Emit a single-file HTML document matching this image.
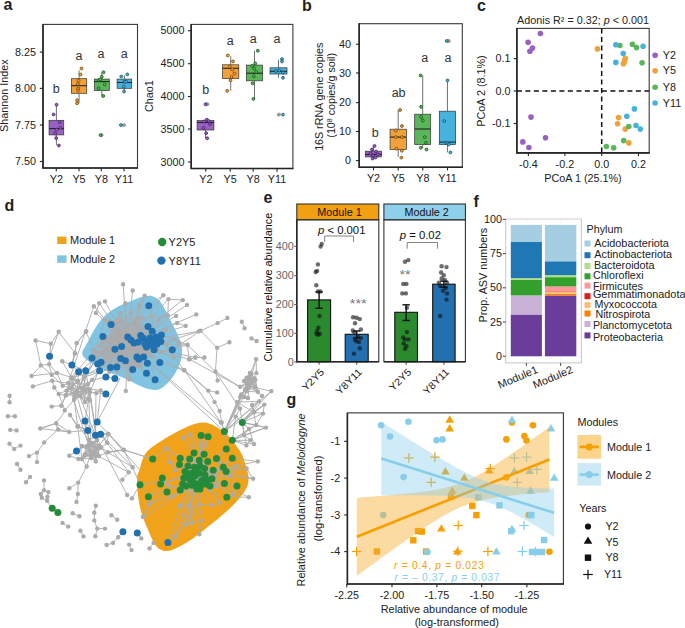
<!DOCTYPE html>
<html><head><meta charset="utf-8"><style>
html,body{margin:0;padding:0;background:#fff;}
svg{display:block;}
text{font-family:"Liberation Sans", sans-serif;}
</style></head><body>
<svg width="685" height="628" viewBox="0 0 685 628">
<rect width="685" height="628" fill="#fff"/>
<text transform="translate(3.50,9.70)" font-size="16" text-anchor="start" fill="#231f20" font-weight="bold" >a</text>
<text transform="translate(302.00,11.20)" font-size="16" text-anchor="start" fill="#231f20" font-weight="bold" >b</text>
<text transform="translate(477.00,10.70)" font-size="16" text-anchor="start" fill="#231f20" font-weight="bold" >c</text>
<text transform="translate(4.50,210.70)" font-size="16" text-anchor="start" fill="#231f20" font-weight="bold" >d</text>
<text transform="translate(263.50,203.20)" font-size="16" text-anchor="start" fill="#231f20" font-weight="bold" >e</text>
<text transform="translate(473.50,206.70)" font-size="16" text-anchor="start" fill="#231f20" font-weight="bold" >f</text>
<text transform="translate(286.50,404.70)" font-size="16" text-anchor="start" fill="#231f20" font-weight="bold" >g</text>
<rect x="43.00" y="24.40" width="94.50" height="143.60" fill="none" stroke="#3a3a3a" stroke-width="1.1" />
<line x1="43.00" y1="23.90" x2="43.00" y2="168.60" stroke="#262626" stroke-width="1.6" />
<line x1="42.40" y1="168.00" x2="138.00" y2="168.00" stroke="#262626" stroke-width="1.6" />
<line x1="39.80" y1="52.10" x2="43.00" y2="52.10" stroke="#262626" stroke-width="1.1" />
<text transform="translate(36.00,55.70) scale(1.08,1)" font-size="10" text-anchor="end" fill="#222" font-weight="normal" >8.25</text>
<line x1="39.80" y1="88.40" x2="43.00" y2="88.40" stroke="#262626" stroke-width="1.1" />
<text transform="translate(36.00,92.00) scale(1.08,1)" font-size="10" text-anchor="end" fill="#222" font-weight="normal" >8.00</text>
<line x1="39.80" y1="125.00" x2="43.00" y2="125.00" stroke="#262626" stroke-width="1.1" />
<text transform="translate(36.00,128.60) scale(1.08,1)" font-size="10" text-anchor="end" fill="#222" font-weight="normal" >7.75</text>
<line x1="39.80" y1="161.50" x2="43.00" y2="161.50" stroke="#262626" stroke-width="1.1" />
<text transform="translate(36.00,165.10) scale(1.08,1)" font-size="10" text-anchor="end" fill="#222" font-weight="normal" >7.50</text>
<line x1="56.30" y1="168.00" x2="56.30" y2="171.20" stroke="#262626" stroke-width="1.1" />
<text transform="translate(56.30,182.60) scale(1.08,1)" font-size="10" text-anchor="middle" fill="#222" font-weight="normal" >Y2</text>
<line x1="79.00" y1="168.00" x2="79.00" y2="171.20" stroke="#262626" stroke-width="1.1" />
<text transform="translate(79.00,182.60) scale(1.08,1)" font-size="10" text-anchor="middle" fill="#222" font-weight="normal" >Y5</text>
<line x1="101.30" y1="168.00" x2="101.30" y2="171.20" stroke="#262626" stroke-width="1.1" />
<text transform="translate(101.30,182.60) scale(1.08,1)" font-size="10" text-anchor="middle" fill="#222" font-weight="normal" >Y8</text>
<line x1="124.00" y1="168.00" x2="124.00" y2="171.20" stroke="#262626" stroke-width="1.1" />
<text transform="translate(124.00,182.60) scale(1.08,1)" font-size="10" text-anchor="middle" fill="#222" font-weight="normal" >Y11</text>
<text transform="translate(7.90,95.70) rotate(-90) scale(1.08,1)" font-size="10" text-anchor="middle" fill="#222" font-weight="normal" >Shannon Index</text>
<line x1="56.40" y1="104.40" x2="56.40" y2="120.30" stroke="#333" stroke-width="0.7" />
<line x1="56.40" y1="134.90" x2="56.40" y2="145.20" stroke="#333" stroke-width="0.7" />
<rect x="49.05" y="120.30" width="14.70" height="14.60" fill="#9960C4" stroke="#333" stroke-width="0.7" />
<line x1="49.05" y1="128.60" x2="63.75" y2="128.60" stroke="#222" stroke-width="1.1" />
<circle cx="56.60" cy="104.70" r="1.45" fill="#9960C4" stroke="#3E1F5C" stroke-width="0.75" />
<circle cx="53.60" cy="114.50" r="1.45" fill="#9960C4" stroke="#3E1F5C" stroke-width="0.75" />
<circle cx="59.70" cy="122.10" r="1.45" fill="#9960C4" stroke="#3E1F5C" stroke-width="0.75" />
<circle cx="56.60" cy="129.60" r="1.45" fill="#9960C4" stroke="#3E1F5C" stroke-width="0.75" />
<circle cx="60.40" cy="127.80" r="1.45" fill="#9960C4" stroke="#3E1F5C" stroke-width="0.75" />
<circle cx="55.10" cy="133.40" r="1.45" fill="#9960C4" stroke="#3E1F5C" stroke-width="0.75" />
<circle cx="56.20" cy="138.10" r="1.45" fill="#9960C4" stroke="#3E1F5C" stroke-width="0.75" />
<circle cx="58.90" cy="145.50" r="1.45" fill="#9960C4" stroke="#3E1F5C" stroke-width="0.75" />
<line x1="79.05" y1="70.40" x2="79.05" y2="78.70" stroke="#333" stroke-width="0.7" />
<line x1="79.05" y1="93.30" x2="79.05" y2="103.30" stroke="#333" stroke-width="0.7" />
<rect x="71.40" y="78.70" width="15.30" height="14.60" fill="#F2A13A" stroke="#333" stroke-width="0.7" />
<line x1="71.40" y1="85.70" x2="86.70" y2="85.70" stroke="#222" stroke-width="1.1" />
<circle cx="81.50" cy="68.50" r="1.45" fill="#F2A13A" stroke="#6A4008" stroke-width="0.75" />
<circle cx="80.60" cy="74.50" r="1.45" fill="#F2A13A" stroke="#6A4008" stroke-width="0.75" />
<circle cx="78.60" cy="80.60" r="1.45" fill="#F2A13A" stroke="#6A4008" stroke-width="0.75" />
<circle cx="77.90" cy="84.00" r="1.45" fill="#F2A13A" stroke="#6A4008" stroke-width="0.75" />
<circle cx="78.20" cy="88.50" r="1.45" fill="#F2A13A" stroke="#6A4008" stroke-width="0.75" />
<circle cx="78.00" cy="90.50" r="1.45" fill="#F2A13A" stroke="#6A4008" stroke-width="0.75" />
<circle cx="77.10" cy="100.30" r="1.45" fill="#F2A13A" stroke="#6A4008" stroke-width="0.75" />
<circle cx="77.10" cy="103.30" r="1.45" fill="#F2A13A" stroke="#6A4008" stroke-width="0.75" />
<line x1="101.80" y1="72.30" x2="101.80" y2="79.10" stroke="#333" stroke-width="0.7" />
<line x1="101.80" y1="90.50" x2="101.80" y2="95.90" stroke="#333" stroke-width="0.7" />
<rect x="94.30" y="79.10" width="15.00" height="11.40" fill="#5BB55B" stroke="#333" stroke-width="0.7" />
<line x1="94.30" y1="81.60" x2="109.30" y2="81.60" stroke="#222" stroke-width="1.1" />
<circle cx="101.60" cy="135.10" r="1.7" fill="#9a9a9a" stroke="#777" stroke-width="0.4" />
<circle cx="103.50" cy="72.30" r="1.45" fill="#5BB55B" stroke="#154F1A" stroke-width="0.75" />
<circle cx="101.80" cy="76.80" r="1.45" fill="#5BB55B" stroke="#154F1A" stroke-width="0.75" />
<circle cx="98.80" cy="80.30" r="1.45" fill="#5BB55B" stroke="#154F1A" stroke-width="0.75" />
<circle cx="100.20" cy="79.50" r="1.45" fill="#5BB55B" stroke="#154F1A" stroke-width="0.75" />
<circle cx="104.60" cy="84.40" r="1.45" fill="#5BB55B" stroke="#154F1A" stroke-width="0.75" />
<circle cx="98.60" cy="88.30" r="1.45" fill="#5BB55B" stroke="#154F1A" stroke-width="0.75" />
<circle cx="103.20" cy="96.00" r="1.45" fill="#5BB55B" stroke="#154F1A" stroke-width="0.75" />
<circle cx="100.50" cy="135.10" r="1.45" fill="#5BB55B" stroke="#154F1A" stroke-width="0.75" />
<line x1="124.40" y1="75.50" x2="124.40" y2="79.10" stroke="#333" stroke-width="0.7" />
<line x1="124.40" y1="88.30" x2="124.40" y2="91.50" stroke="#333" stroke-width="0.7" />
<rect x="117.10" y="79.10" width="14.60" height="9.20" fill="#45B3DE" stroke="#333" stroke-width="0.7" />
<line x1="117.10" y1="82.50" x2="131.70" y2="82.50" stroke="#222" stroke-width="1.1" />
<circle cx="124.00" cy="125.10" r="1.7" fill="#9a9a9a" stroke="#777" stroke-width="0.4" />
<circle cx="121.30" cy="76.50" r="1.45" fill="#45B3DE" stroke="#134C66" stroke-width="0.75" />
<circle cx="127.30" cy="74.40" r="1.45" fill="#45B3DE" stroke="#134C66" stroke-width="0.75" />
<circle cx="124.40" cy="81.80" r="1.45" fill="#45B3DE" stroke="#134C66" stroke-width="0.75" />
<circle cx="126.10" cy="81.80" r="1.45" fill="#45B3DE" stroke="#134C66" stroke-width="0.75" />
<circle cx="123.80" cy="86.60" r="1.45" fill="#45B3DE" stroke="#134C66" stroke-width="0.75" />
<circle cx="124.00" cy="91.50" r="1.45" fill="#45B3DE" stroke="#134C66" stroke-width="0.75" />
<circle cx="120.90" cy="125.10" r="1.45" fill="#45B3DE" stroke="#134C66" stroke-width="0.75" />
<text transform="translate(56.30,92.60)" font-size="12.5" text-anchor="middle" fill="#333" font-weight="normal" >b</text>
<text transform="translate(79.00,59.70)" font-size="12.5" text-anchor="middle" fill="#333" font-weight="normal" >a</text>
<text transform="translate(101.00,57.70)" font-size="12.5" text-anchor="middle" fill="#333" font-weight="normal" >a</text>
<text transform="translate(124.20,57.70)" font-size="12.5" text-anchor="middle" fill="#333" font-weight="normal" >a</text>
<rect x="191.20" y="24.40" width="101.70" height="144.10" fill="none" stroke="#3a3a3a" stroke-width="1.1" />
<line x1="191.20" y1="23.90" x2="191.20" y2="169.10" stroke="#262626" stroke-width="1.6" />
<line x1="190.60" y1="168.50" x2="293.40" y2="168.50" stroke="#262626" stroke-width="1.6" />
<line x1="188.00" y1="30.70" x2="191.20" y2="30.70" stroke="#262626" stroke-width="1.1" />
<text transform="translate(184.50,34.30) scale(1.08,1)" font-size="10" text-anchor="end" fill="#222" font-weight="normal" >5000</text>
<line x1="188.00" y1="63.70" x2="191.20" y2="63.70" stroke="#262626" stroke-width="1.1" />
<text transform="translate(184.50,67.30) scale(1.08,1)" font-size="10" text-anchor="end" fill="#222" font-weight="normal" >4500</text>
<line x1="188.00" y1="96.50" x2="191.20" y2="96.50" stroke="#262626" stroke-width="1.1" />
<text transform="translate(184.50,100.10) scale(1.08,1)" font-size="10" text-anchor="end" fill="#222" font-weight="normal" >4000</text>
<line x1="188.00" y1="129.00" x2="191.20" y2="129.00" stroke="#262626" stroke-width="1.1" />
<text transform="translate(184.50,132.60) scale(1.08,1)" font-size="10" text-anchor="end" fill="#222" font-weight="normal" >3500</text>
<line x1="188.00" y1="162.00" x2="191.20" y2="162.00" stroke="#262626" stroke-width="1.1" />
<text transform="translate(184.50,165.60) scale(1.08,1)" font-size="10" text-anchor="end" fill="#222" font-weight="normal" >3000</text>
<line x1="205.80" y1="168.50" x2="205.80" y2="171.70" stroke="#262626" stroke-width="1.1" />
<text transform="translate(205.80,182.90) scale(1.08,1)" font-size="10" text-anchor="middle" fill="#222" font-weight="normal" >Y2</text>
<line x1="230.20" y1="168.50" x2="230.20" y2="171.70" stroke="#262626" stroke-width="1.1" />
<text transform="translate(230.20,182.90) scale(1.08,1)" font-size="10" text-anchor="middle" fill="#222" font-weight="normal" >Y5</text>
<line x1="253.20" y1="168.50" x2="253.20" y2="171.70" stroke="#262626" stroke-width="1.1" />
<text transform="translate(253.20,182.90) scale(1.08,1)" font-size="10" text-anchor="middle" fill="#222" font-weight="normal" >Y8</text>
<line x1="277.00" y1="168.50" x2="277.00" y2="171.70" stroke="#262626" stroke-width="1.1" />
<text transform="translate(277.00,182.90) scale(1.08,1)" font-size="10" text-anchor="middle" fill="#222" font-weight="normal" >Y11</text>
<text transform="translate(153.40,96.20) rotate(-90) scale(1.08,1)" font-size="10" text-anchor="middle" fill="#222" font-weight="normal" >Chao1</text>
<line x1="205.50" y1="120.60" x2="205.50" y2="120.60" stroke="#333" stroke-width="0.7" />
<line x1="205.50" y1="130.00" x2="205.50" y2="138.20" stroke="#333" stroke-width="0.7" />
<rect x="197.10" y="120.60" width="16.80" height="9.40" fill="#9960C4" stroke="#333" stroke-width="0.7" />
<line x1="197.10" y1="122.50" x2="213.90" y2="122.50" stroke="#222" stroke-width="1.1" />
<circle cx="207.30" cy="104.30" r="1.7" fill="#9a9a9a" stroke="#777" stroke-width="0.4" />
<circle cx="205.50" cy="104.30" r="1.45" fill="#9960C4" stroke="#3E1F5C" stroke-width="0.75" />
<circle cx="206.80" cy="119.70" r="1.45" fill="#9960C4" stroke="#3E1F5C" stroke-width="0.75" />
<circle cx="208.60" cy="121.00" r="1.45" fill="#9960C4" stroke="#3E1F5C" stroke-width="0.75" />
<circle cx="204.00" cy="121.50" r="1.45" fill="#9960C4" stroke="#3E1F5C" stroke-width="0.75" />
<circle cx="210.00" cy="124.00" r="1.45" fill="#9960C4" stroke="#3E1F5C" stroke-width="0.75" />
<circle cx="203.50" cy="128.00" r="1.45" fill="#9960C4" stroke="#3E1F5C" stroke-width="0.75" />
<circle cx="206.20" cy="133.20" r="1.45" fill="#9960C4" stroke="#3E1F5C" stroke-width="0.75" />
<circle cx="207.20" cy="138.30" r="1.45" fill="#9960C4" stroke="#3E1F5C" stroke-width="0.75" />
<line x1="230.70" y1="56.10" x2="230.70" y2="64.80" stroke="#333" stroke-width="0.7" />
<line x1="230.70" y1="78.60" x2="230.70" y2="90.80" stroke="#333" stroke-width="0.7" />
<rect x="222.60" y="64.80" width="16.20" height="13.80" fill="#F2A13A" stroke="#333" stroke-width="0.7" />
<line x1="222.60" y1="68.30" x2="238.80" y2="68.30" stroke="#222" stroke-width="1.1" />
<circle cx="227.80" cy="55.50" r="1.45" fill="#F2A13A" stroke="#6A4008" stroke-width="0.75" />
<circle cx="233.00" cy="61.40" r="1.45" fill="#F2A13A" stroke="#6A4008" stroke-width="0.75" />
<circle cx="229.80" cy="66.50" r="1.45" fill="#F2A13A" stroke="#6A4008" stroke-width="0.75" />
<circle cx="232.30" cy="69.40" r="1.45" fill="#F2A13A" stroke="#6A4008" stroke-width="0.75" />
<circle cx="234.50" cy="73.50" r="1.45" fill="#F2A13A" stroke="#6A4008" stroke-width="0.75" />
<circle cx="231.60" cy="77.00" r="1.45" fill="#F2A13A" stroke="#6A4008" stroke-width="0.75" />
<circle cx="230.50" cy="80.30" r="1.45" fill="#F2A13A" stroke="#6A4008" stroke-width="0.75" />
<circle cx="227.20" cy="90.80" r="1.45" fill="#F2A13A" stroke="#6A4008" stroke-width="0.75" />
<line x1="254.50" y1="50.70" x2="254.50" y2="65.10" stroke="#333" stroke-width="0.7" />
<line x1="254.50" y1="80.80" x2="254.50" y2="98.90" stroke="#333" stroke-width="0.7" />
<rect x="246.40" y="65.10" width="16.20" height="15.70" fill="#5BB55B" stroke="#333" stroke-width="0.7" />
<line x1="246.40" y1="73.20" x2="262.60" y2="73.20" stroke="#222" stroke-width="1.1" />
<circle cx="257.80" cy="50.70" r="1.45" fill="#5BB55B" stroke="#154F1A" stroke-width="0.75" />
<circle cx="255.30" cy="63.50" r="1.45" fill="#5BB55B" stroke="#154F1A" stroke-width="0.75" />
<circle cx="252.30" cy="65.80" r="1.45" fill="#5BB55B" stroke="#154F1A" stroke-width="0.75" />
<circle cx="254.10" cy="68.40" r="1.45" fill="#5BB55B" stroke="#154F1A" stroke-width="0.75" />
<circle cx="256.20" cy="72.00" r="1.45" fill="#5BB55B" stroke="#154F1A" stroke-width="0.75" />
<circle cx="253.80" cy="76.30" r="1.45" fill="#5BB55B" stroke="#154F1A" stroke-width="0.75" />
<circle cx="252.60" cy="83.30" r="1.45" fill="#5BB55B" stroke="#154F1A" stroke-width="0.75" />
<circle cx="253.40" cy="98.90" r="1.45" fill="#5BB55B" stroke="#154F1A" stroke-width="0.75" />
<line x1="278.50" y1="59.70" x2="278.50" y2="67.80" stroke="#333" stroke-width="0.7" />
<line x1="278.50" y1="74.00" x2="278.50" y2="77.80" stroke="#333" stroke-width="0.7" />
<rect x="270.00" y="67.80" width="17.00" height="6.20" fill="#45B3DE" stroke="#333" stroke-width="0.7" />
<line x1="270.00" y1="71.30" x2="287.00" y2="71.30" stroke="#222" stroke-width="1.1" />
<circle cx="278.90" cy="114.60" r="1.7" fill="#9a9a9a" stroke="#777" stroke-width="0.4" />
<circle cx="282.00" cy="59.10" r="1.45" fill="#45B3DE" stroke="#134C66" stroke-width="0.75" />
<circle cx="282.00" cy="61.50" r="1.45" fill="#45B3DE" stroke="#134C66" stroke-width="0.75" />
<circle cx="275.90" cy="71.00" r="1.45" fill="#45B3DE" stroke="#134C66" stroke-width="0.75" />
<circle cx="279.20" cy="70.50" r="1.45" fill="#45B3DE" stroke="#134C66" stroke-width="0.75" />
<circle cx="283.00" cy="72.60" r="1.45" fill="#45B3DE" stroke="#134C66" stroke-width="0.75" />
<circle cx="283.00" cy="77.80" r="1.45" fill="#45B3DE" stroke="#134C66" stroke-width="0.75" />
<circle cx="283.00" cy="114.60" r="1.45" fill="#45B3DE" stroke="#134C66" stroke-width="0.75" />
<text transform="translate(205.80,94.00)" font-size="12.5" text-anchor="middle" fill="#333" font-weight="normal" >b</text>
<text transform="translate(230.20,44.80)" font-size="12.5" text-anchor="middle" fill="#333" font-weight="normal" >a</text>
<text transform="translate(253.20,42.60)" font-size="12.5" text-anchor="middle" fill="#333" font-weight="normal" >a</text>
<text transform="translate(277.00,42.60)" font-size="12.5" text-anchor="middle" fill="#333" font-weight="normal" >a</text>
<rect x="359.20" y="23.70" width="103.10" height="143.50" fill="none" stroke="#3a3a3a" stroke-width="1.1" />
<line x1="359.20" y1="23.20" x2="359.20" y2="167.80" stroke="#262626" stroke-width="1.6" />
<line x1="358.60" y1="167.20" x2="462.80" y2="167.20" stroke="#262626" stroke-width="1.6" />
<line x1="356.00" y1="44.20" x2="359.20" y2="44.20" stroke="#262626" stroke-width="1.1" />
<text transform="translate(351.00,47.80) scale(1.08,1)" font-size="10" text-anchor="end" fill="#222" font-weight="normal" >40</text>
<line x1="356.00" y1="73.00" x2="359.20" y2="73.00" stroke="#262626" stroke-width="1.1" />
<text transform="translate(351.00,76.60) scale(1.08,1)" font-size="10" text-anchor="end" fill="#222" font-weight="normal" >30</text>
<line x1="356.00" y1="102.60" x2="359.20" y2="102.60" stroke="#262626" stroke-width="1.1" />
<text transform="translate(351.00,106.20) scale(1.08,1)" font-size="10" text-anchor="end" fill="#222" font-weight="normal" >20</text>
<line x1="356.00" y1="131.50" x2="359.20" y2="131.50" stroke="#262626" stroke-width="1.1" />
<text transform="translate(351.00,135.10) scale(1.08,1)" font-size="10" text-anchor="end" fill="#222" font-weight="normal" >10</text>
<line x1="356.00" y1="160.60" x2="359.20" y2="160.60" stroke="#262626" stroke-width="1.1" />
<text transform="translate(351.00,164.20) scale(1.08,1)" font-size="10" text-anchor="end" fill="#222" font-weight="normal" >0</text>
<line x1="373.50" y1="167.20" x2="373.50" y2="170.40" stroke="#262626" stroke-width="1.1" />
<text transform="translate(373.50,181.80) scale(1.08,1)" font-size="10" text-anchor="middle" fill="#222" font-weight="normal" >Y2</text>
<line x1="398.20" y1="167.20" x2="398.20" y2="170.40" stroke="#262626" stroke-width="1.1" />
<text transform="translate(398.20,181.80) scale(1.08,1)" font-size="10" text-anchor="middle" fill="#222" font-weight="normal" >Y5</text>
<line x1="422.80" y1="167.20" x2="422.80" y2="170.40" stroke="#262626" stroke-width="1.1" />
<text transform="translate(422.80,181.80) scale(1.08,1)" font-size="10" text-anchor="middle" fill="#222" font-weight="normal" >Y8</text>
<line x1="447.50" y1="167.20" x2="447.50" y2="170.40" stroke="#262626" stroke-width="1.1" />
<text transform="translate(447.50,181.80) scale(1.08,1)" font-size="10" text-anchor="middle" fill="#222" font-weight="normal" >Y11</text>
<text transform="translate(322.80,96.80) rotate(-90) scale(1.07,1)" font-size="10" text-anchor="middle" fill="#222" font-weight="normal" >16S rRNA gene copies</text>
<text transform="translate(335.00,95.30) rotate(-90) scale(1.07,1)" font-size="10" text-anchor="middle" fill="#222" font-weight="normal" >(10<tspan font-size="6.5" dy="-3.5">8</tspan><tspan dy="3.5"> copies/g soil)</tspan></text>
<line x1="373.50" y1="145.80" x2="373.50" y2="151.20" stroke="#333" stroke-width="0.7" />
<line x1="373.50" y1="156.90" x2="373.50" y2="159.30" stroke="#333" stroke-width="0.7" />
<rect x="365.40" y="151.20" width="16.20" height="5.70" fill="#9960C4" stroke="#333" stroke-width="0.7" />
<line x1="365.40" y1="154.40" x2="381.60" y2="154.40" stroke="#222" stroke-width="1.1" />
<circle cx="374.50" cy="146.00" r="1.45" fill="#9960C4" stroke="#3E1F5C" stroke-width="0.75" />
<circle cx="372.00" cy="149.50" r="1.45" fill="#9960C4" stroke="#3E1F5C" stroke-width="0.75" />
<circle cx="376.00" cy="151.50" r="1.45" fill="#9960C4" stroke="#3E1F5C" stroke-width="0.75" />
<circle cx="370.50" cy="153.50" r="1.45" fill="#9960C4" stroke="#3E1F5C" stroke-width="0.75" />
<circle cx="378.00" cy="154.60" r="1.45" fill="#9960C4" stroke="#3E1F5C" stroke-width="0.75" />
<circle cx="373.00" cy="155.50" r="1.45" fill="#9960C4" stroke="#3E1F5C" stroke-width="0.75" />
<circle cx="375.50" cy="157.50" r="1.45" fill="#9960C4" stroke="#3E1F5C" stroke-width="0.75" />
<circle cx="372.50" cy="158.50" r="1.45" fill="#9960C4" stroke="#3E1F5C" stroke-width="0.75" />
<line x1="398.20" y1="110.00" x2="398.20" y2="129.20" stroke="#333" stroke-width="0.7" />
<line x1="398.20" y1="149.50" x2="398.20" y2="156.90" stroke="#333" stroke-width="0.7" />
<rect x="390.05" y="129.20" width="16.30" height="20.30" fill="#F2A13A" stroke="#333" stroke-width="0.7" />
<line x1="390.05" y1="137.10" x2="406.35" y2="137.10" stroke="#222" stroke-width="1.1" />
<circle cx="400.10" cy="110.00" r="1.45" fill="#F2A13A" stroke="#6A4008" stroke-width="0.75" />
<circle cx="401.90" cy="126.00" r="1.45" fill="#F2A13A" stroke="#6A4008" stroke-width="0.75" />
<circle cx="395.70" cy="130.50" r="1.45" fill="#F2A13A" stroke="#6A4008" stroke-width="0.75" />
<circle cx="401.90" cy="137.10" r="1.45" fill="#F2A13A" stroke="#6A4008" stroke-width="0.75" />
<circle cx="395.70" cy="137.10" r="1.45" fill="#F2A13A" stroke="#6A4008" stroke-width="0.75" />
<circle cx="396.40" cy="148.70" r="1.45" fill="#F2A13A" stroke="#6A4008" stroke-width="0.75" />
<circle cx="401.90" cy="150.70" r="1.45" fill="#F2A13A" stroke="#6A4008" stroke-width="0.75" />
<circle cx="401.40" cy="157.60" r="1.45" fill="#F2A13A" stroke="#6A4008" stroke-width="0.75" />
<line x1="422.70" y1="75.50" x2="422.70" y2="114.20" stroke="#333" stroke-width="0.7" />
<line x1="422.70" y1="144.50" x2="422.70" y2="148.20" stroke="#333" stroke-width="0.7" />
<rect x="414.70" y="114.20" width="16.00" height="30.30" fill="#5BB55B" stroke="#333" stroke-width="0.7" />
<line x1="414.70" y1="129.00" x2="430.70" y2="129.00" stroke="#222" stroke-width="1.1" />
<circle cx="420.60" cy="75.50" r="1.45" fill="#5BB55B" stroke="#154F1A" stroke-width="0.75" />
<circle cx="421.10" cy="106.80" r="1.45" fill="#5BB55B" stroke="#154F1A" stroke-width="0.75" />
<circle cx="421.10" cy="116.90" r="1.45" fill="#5BB55B" stroke="#154F1A" stroke-width="0.75" />
<circle cx="422.80" cy="120.60" r="1.45" fill="#5BB55B" stroke="#154F1A" stroke-width="0.75" />
<circle cx="424.80" cy="137.10" r="1.45" fill="#5BB55B" stroke="#154F1A" stroke-width="0.75" />
<circle cx="425.80" cy="142.80" r="1.45" fill="#5BB55B" stroke="#154F1A" stroke-width="0.75" />
<circle cx="420.80" cy="147.70" r="1.45" fill="#5BB55B" stroke="#154F1A" stroke-width="0.75" />
<circle cx="426.50" cy="149.50" r="1.45" fill="#5BB55B" stroke="#154F1A" stroke-width="0.75" />
<line x1="447.45" y1="80.40" x2="447.45" y2="111.20" stroke="#333" stroke-width="0.7" />
<line x1="447.45" y1="144.50" x2="447.45" y2="152.40" stroke="#333" stroke-width="0.7" />
<rect x="439.30" y="111.20" width="16.30" height="33.30" fill="#45B3DE" stroke="#333" stroke-width="0.7" />
<line x1="439.30" y1="142.10" x2="455.60" y2="142.10" stroke="#222" stroke-width="1.1" />
<circle cx="448.70" cy="41.00" r="1.7" fill="#9a9a9a" stroke="#777" stroke-width="0.4" />
<circle cx="447.50" cy="80.40" r="1.45" fill="#45B3DE" stroke="#134C66" stroke-width="0.75" />
<circle cx="444.30" cy="121.10" r="1.45" fill="#45B3DE" stroke="#134C66" stroke-width="0.75" />
<circle cx="446.20" cy="142.60" r="1.45" fill="#45B3DE" stroke="#134C66" stroke-width="0.75" />
<circle cx="447.50" cy="143.30" r="1.45" fill="#45B3DE" stroke="#134C66" stroke-width="0.75" />
<circle cx="448.70" cy="144.50" r="1.45" fill="#45B3DE" stroke="#134C66" stroke-width="0.75" />
<circle cx="450.40" cy="152.40" r="1.45" fill="#45B3DE" stroke="#134C66" stroke-width="0.75" />
<circle cx="446.70" cy="41.00" r="1.45" fill="#45B3DE" stroke="#134C66" stroke-width="0.75" />
<text transform="translate(375.20,137.10)" font-size="12.5" text-anchor="middle" fill="#333" font-weight="normal" >b</text>
<text transform="translate(398.60,97.00)" font-size="12.5" text-anchor="middle" fill="#333" font-weight="normal" >ab</text>
<text transform="translate(424.80,62.40)" font-size="12.5" text-anchor="middle" fill="#333" font-weight="normal" >a</text>
<text transform="translate(448.00,62.40)" font-size="12.5" text-anchor="middle" fill="#333" font-weight="normal" >a</text>
<text transform="translate(583.00,24.00) scale(1.08,1)" font-size="10" text-anchor="middle" fill="#222" font-weight="normal" >Adonis R² = 0.32; <tspan font-style="italic">p</tspan> &lt; 0.001</text>
<rect x="516.90" y="28.40" width="132.30" height="124.50" fill="none" stroke="#3a3a3a" stroke-width="1.1" />
<line x1="516.90" y1="27.90" x2="516.90" y2="153.50" stroke="#262626" stroke-width="1.6" />
<line x1="516.30" y1="152.90" x2="649.70" y2="152.90" stroke="#262626" stroke-width="1.6" />
<line x1="516.90" y1="91.00" x2="649.20" y2="91.00" stroke="#111" stroke-width="1.5" stroke-dasharray="5,3.5"/>
<line x1="601.70" y1="28.40" x2="601.70" y2="152.90" stroke="#111" stroke-width="1.5" stroke-dasharray="5,3.5"/>
<line x1="513.70" y1="58.60" x2="516.90" y2="58.60" stroke="#262626" stroke-width="1.1" />
<text transform="translate(510.50,62.20) scale(1.08,1)" font-size="10" text-anchor="end" fill="#222" font-weight="normal" >0.1</text>
<line x1="513.70" y1="91.00" x2="516.90" y2="91.00" stroke="#262626" stroke-width="1.1" />
<text transform="translate(510.50,94.60) scale(1.08,1)" font-size="10" text-anchor="end" fill="#222" font-weight="normal" >0.0</text>
<line x1="513.70" y1="123.50" x2="516.90" y2="123.50" stroke="#262626" stroke-width="1.1" />
<text transform="translate(510.50,127.10) scale(1.08,1)" font-size="10" text-anchor="end" fill="#222" font-weight="normal" >-0.1</text>
<line x1="528.40" y1="152.90" x2="528.40" y2="156.10" stroke="#262626" stroke-width="1.1" />
<text transform="translate(528.40,168.00) scale(1.08,1)" font-size="10" text-anchor="middle" fill="#222" font-weight="normal" >-0.4</text>
<line x1="564.90" y1="152.90" x2="564.90" y2="156.10" stroke="#262626" stroke-width="1.1" />
<text transform="translate(564.90,168.00) scale(1.08,1)" font-size="10" text-anchor="middle" fill="#222" font-weight="normal" >-0.2</text>
<line x1="601.70" y1="152.90" x2="601.70" y2="156.10" stroke="#262626" stroke-width="1.1" />
<text transform="translate(601.70,168.00) scale(1.08,1)" font-size="10" text-anchor="middle" fill="#222" font-weight="normal" >0.0</text>
<line x1="638.50" y1="152.90" x2="638.50" y2="156.10" stroke="#262626" stroke-width="1.1" />
<text transform="translate(638.50,168.00) scale(1.08,1)" font-size="10" text-anchor="middle" fill="#222" font-weight="normal" >0.2</text>
<text transform="translate(583.00,182.40) scale(1.08,1)" font-size="10" text-anchor="middle" fill="#222" font-weight="normal" >PCoA 1 (25.1%)</text>
<text transform="translate(485.40,91.00) rotate(-90) scale(1.08,1)" font-size="10" text-anchor="middle" fill="#222" font-weight="normal" >PCoA 2 (8.1%)</text>
<circle cx="540.40" cy="33.50" r="2.8" fill="#9960C4" stroke="none" stroke-width="1" />
<circle cx="528.10" cy="42.20" r="2.8" fill="#9960C4" stroke="none" stroke-width="1" />
<circle cx="532.50" cy="48.10" r="2.8" fill="#9960C4" stroke="none" stroke-width="1" />
<circle cx="529.90" cy="51.20" r="2.8" fill="#9960C4" stroke="none" stroke-width="1" />
<circle cx="531.00" cy="117.10" r="2.8" fill="#9960C4" stroke="none" stroke-width="1" />
<circle cx="522.80" cy="141.90" r="2.8" fill="#9960C4" stroke="none" stroke-width="1" />
<circle cx="528.90" cy="147.50" r="2.8" fill="#9960C4" stroke="none" stroke-width="1" />
<circle cx="545.50" cy="137.80" r="2.8" fill="#9960C4" stroke="none" stroke-width="1" />
<circle cx="597.40" cy="48.90" r="2.8" fill="#F2A13A" stroke="none" stroke-width="1" />
<circle cx="625.20" cy="58.30" r="2.8" fill="#F2A13A" stroke="none" stroke-width="1" />
<circle cx="624.50" cy="61.40" r="2.8" fill="#F2A13A" stroke="none" stroke-width="1" />
<circle cx="623.40" cy="63.70" r="2.8" fill="#F2A13A" stroke="none" stroke-width="1" />
<circle cx="618.60" cy="117.60" r="2.8" fill="#F2A13A" stroke="none" stroke-width="1" />
<circle cx="617.60" cy="123.70" r="2.8" fill="#F2A13A" stroke="none" stroke-width="1" />
<circle cx="625.20" cy="129.10" r="2.8" fill="#F2A13A" stroke="none" stroke-width="1" />
<circle cx="628.80" cy="142.90" r="2.8" fill="#F2A13A" stroke="none" stroke-width="1" />
<circle cx="619.90" cy="45.50" r="2.8" fill="#5BB55B" stroke="none" stroke-width="1" />
<circle cx="632.40" cy="44.30" r="2.8" fill="#5BB55B" stroke="none" stroke-width="1" />
<circle cx="636.50" cy="47.60" r="2.8" fill="#5BB55B" stroke="none" stroke-width="1" />
<circle cx="642.10" cy="62.70" r="2.8" fill="#5BB55B" stroke="none" stroke-width="1" />
<circle cx="628.80" cy="126.50" r="2.8" fill="#5BB55B" stroke="none" stroke-width="1" />
<circle cx="623.70" cy="140.60" r="2.8" fill="#5BB55B" stroke="none" stroke-width="1" />
<circle cx="606.30" cy="146.50" r="2.8" fill="#5BB55B" stroke="none" stroke-width="1" />
<circle cx="613.70" cy="147.70" r="2.8" fill="#5BB55B" stroke="none" stroke-width="1" />
<circle cx="615.80" cy="44.80" r="2.8" fill="#45B3DE" stroke="none" stroke-width="1" />
<circle cx="623.20" cy="53.50" r="2.8" fill="#45B3DE" stroke="none" stroke-width="1" />
<circle cx="615.80" cy="62.40" r="2.8" fill="#45B3DE" stroke="none" stroke-width="1" />
<circle cx="643.10" cy="46.30" r="2.8" fill="#45B3DE" stroke="none" stroke-width="1" />
<circle cx="634.40" cy="108.90" r="2.8" fill="#45B3DE" stroke="none" stroke-width="1" />
<circle cx="626.80" cy="116.30" r="2.8" fill="#45B3DE" stroke="none" stroke-width="1" />
<circle cx="636.00" cy="125.50" r="2.8" fill="#45B3DE" stroke="none" stroke-width="1" />
<circle cx="640.30" cy="129.10" r="2.8" fill="#45B3DE" stroke="none" stroke-width="1" />
<circle cx="655.10" cy="55.30" r="2.8" fill="#9960C4" stroke="none" stroke-width="1" />
<text transform="translate(662.80,58.90) scale(1.08,1)" font-size="10" text-anchor="start" fill="#222" font-weight="normal" >Y2</text>
<circle cx="655.10" cy="70.80" r="2.8" fill="#F2A13A" stroke="none" stroke-width="1" />
<text transform="translate(662.80,74.40) scale(1.08,1)" font-size="10" text-anchor="start" fill="#222" font-weight="normal" >Y5</text>
<circle cx="655.10" cy="87.20" r="2.8" fill="#5BB55B" stroke="none" stroke-width="1" />
<text transform="translate(662.80,90.80) scale(1.08,1)" font-size="10" text-anchor="start" fill="#222" font-weight="normal" >Y8</text>
<circle cx="655.10" cy="103.00" r="2.8" fill="#45B3DE" stroke="none" stroke-width="1" />
<text transform="translate(662.80,106.60) scale(1.08,1)" font-size="10" text-anchor="start" fill="#222" font-weight="normal" >Y11</text>
<rect x="296.80" y="204.00" width="82.00" height="15.80" fill="#F0A010" stroke="#222" stroke-width="1" />
<rect x="383.90" y="204.00" width="81.50" height="15.80" fill="#8ED0EC" stroke="#222" stroke-width="1" />
<text transform="translate(339.50,215.60) scale(1.08,1)" font-size="10" text-anchor="middle" fill="#111" font-weight="normal" >Module 1</text>
<text transform="translate(426.60,215.60) scale(1.08,1)" font-size="10" text-anchor="middle" fill="#111" font-weight="normal" >Module 2</text>
<rect x="296.80" y="219.80" width="82.00" height="141.90" fill="none" stroke="#333" stroke-width="1.1" />
<rect x="383.90" y="219.80" width="81.50" height="141.90" fill="none" stroke="#333" stroke-width="1.1" />
<line x1="296.80" y1="219.80" x2="296.80" y2="362.30" stroke="#262626" stroke-width="1.5" />
<line x1="296.20" y1="361.70" x2="378.80" y2="361.70" stroke="#262626" stroke-width="1.5" />
<line x1="383.90" y1="361.70" x2="465.40" y2="361.70" stroke="#262626" stroke-width="1.5" />
<line x1="294.20" y1="246.30" x2="296.80" y2="246.30" stroke="#555" stroke-width="1" />
<text transform="translate(293.80,249.90) scale(1.08,1)" font-size="10" text-anchor="end" fill="#666" font-weight="normal" >400</text>
<line x1="294.20" y1="275.80" x2="296.80" y2="275.80" stroke="#555" stroke-width="1" />
<text transform="translate(293.80,279.40) scale(1.08,1)" font-size="10" text-anchor="end" fill="#666" font-weight="normal" >300</text>
<line x1="294.20" y1="304.60" x2="296.80" y2="304.60" stroke="#555" stroke-width="1" />
<text transform="translate(293.80,308.20) scale(1.08,1)" font-size="10" text-anchor="end" fill="#666" font-weight="normal" >200</text>
<line x1="294.20" y1="333.30" x2="296.80" y2="333.30" stroke="#555" stroke-width="1" />
<text transform="translate(293.80,336.90) scale(1.08,1)" font-size="10" text-anchor="end" fill="#666" font-weight="normal" >100</text>
<line x1="294.20" y1="362.00" x2="296.80" y2="362.00" stroke="#555" stroke-width="1" />
<text transform="translate(293.80,365.60) scale(1.08,1)" font-size="10" text-anchor="end" fill="#666" font-weight="normal" >0</text>
<text transform="translate(271.80,287.20) rotate(-90) scale(1.085,1)" font-size="10" text-anchor="middle" fill="#111" font-weight="normal" >Cumulative relative abundance</text>
<rect x="307.60" y="299.90" width="23.00" height="61.80" fill="#2B8A2E" stroke="#111" stroke-width="1.1" />
<rect x="345.20" y="334.30" width="23.00" height="27.40" fill="#2270B0" stroke="#111" stroke-width="1.1" />
<rect x="394.80" y="312.30" width="22.70" height="49.40" fill="#2B8A2E" stroke="#111" stroke-width="1.1" />
<rect x="432.70" y="284.20" width="22.40" height="77.50" fill="#2270B0" stroke="#111" stroke-width="1.1" />
<circle cx="321.70" cy="243.90" r="2.2" fill="#111" stroke="none" stroke-width="1" fill-opacity="0.62"/>
<circle cx="320.60" cy="246.60" r="2.2" fill="#111" stroke="none" stroke-width="1" fill-opacity="0.62"/>
<circle cx="317.90" cy="264.40" r="2.2" fill="#111" stroke="none" stroke-width="1" fill-opacity="0.62"/>
<circle cx="317.10" cy="270.90" r="2.2" fill="#111" stroke="none" stroke-width="1" fill-opacity="0.62"/>
<circle cx="315.70" cy="272.00" r="2.2" fill="#111" stroke="none" stroke-width="1" fill-opacity="0.62"/>
<circle cx="316.30" cy="285.30" r="2.2" fill="#111" stroke="none" stroke-width="1" fill-opacity="0.62"/>
<circle cx="317.90" cy="291.50" r="2.2" fill="#111" stroke="none" stroke-width="1" fill-opacity="0.62"/>
<circle cx="320.30" cy="291.50" r="2.2" fill="#111" stroke="none" stroke-width="1" fill-opacity="0.62"/>
<circle cx="319.50" cy="315.90" r="2.2" fill="#111" stroke="none" stroke-width="1" fill-opacity="0.62"/>
<circle cx="318.40" cy="327.80" r="2.2" fill="#111" stroke="none" stroke-width="1" fill-opacity="0.62"/>
<circle cx="317.10" cy="331.00" r="2.2" fill="#111" stroke="none" stroke-width="1" fill-opacity="0.62"/>
<circle cx="316.30" cy="333.70" r="2.2" fill="#111" stroke="none" stroke-width="1" fill-opacity="0.62"/>
<circle cx="319.80" cy="333.70" r="2.2" fill="#111" stroke="none" stroke-width="1" fill-opacity="0.62"/>
<circle cx="318.20" cy="334.80" r="2.2" fill="#111" stroke="none" stroke-width="1" fill-opacity="0.62"/>
<circle cx="353.10" cy="317.20" r="2.2" fill="#111" stroke="none" stroke-width="1" fill-opacity="0.62"/>
<circle cx="356.60" cy="317.80" r="2.2" fill="#111" stroke="none" stroke-width="1" fill-opacity="0.62"/>
<circle cx="359.80" cy="319.10" r="2.2" fill="#111" stroke="none" stroke-width="1" fill-opacity="0.62"/>
<circle cx="355.00" cy="323.20" r="2.2" fill="#111" stroke="none" stroke-width="1" fill-opacity="0.62"/>
<circle cx="352.80" cy="330.50" r="2.2" fill="#111" stroke="none" stroke-width="1" fill-opacity="0.62"/>
<circle cx="360.90" cy="329.40" r="2.2" fill="#111" stroke="none" stroke-width="1" fill-opacity="0.62"/>
<circle cx="354.40" cy="332.40" r="2.2" fill="#111" stroke="none" stroke-width="1" fill-opacity="0.62"/>
<circle cx="357.70" cy="336.70" r="2.2" fill="#111" stroke="none" stroke-width="1" fill-opacity="0.62"/>
<circle cx="355.00" cy="339.40" r="2.2" fill="#111" stroke="none" stroke-width="1" fill-opacity="0.62"/>
<circle cx="360.90" cy="338.10" r="2.2" fill="#111" stroke="none" stroke-width="1" fill-opacity="0.62"/>
<circle cx="356.30" cy="341.30" r="2.2" fill="#111" stroke="none" stroke-width="1" fill-opacity="0.62"/>
<circle cx="359.00" cy="342.10" r="2.2" fill="#111" stroke="none" stroke-width="1" fill-opacity="0.62"/>
<circle cx="359.80" cy="348.30" r="2.2" fill="#111" stroke="none" stroke-width="1" fill-opacity="0.62"/>
<circle cx="353.90" cy="353.80" r="2.2" fill="#111" stroke="none" stroke-width="1" fill-opacity="0.62"/>
<circle cx="408.30" cy="260.10" r="2.2" fill="#111" stroke="none" stroke-width="1" fill-opacity="0.62"/>
<circle cx="405.00" cy="261.70" r="2.2" fill="#111" stroke="none" stroke-width="1" fill-opacity="0.62"/>
<circle cx="403.20" cy="283.90" r="2.2" fill="#111" stroke="none" stroke-width="1" fill-opacity="0.62"/>
<circle cx="406.40" cy="283.90" r="2.2" fill="#111" stroke="none" stroke-width="1" fill-opacity="0.62"/>
<circle cx="402.30" cy="293.40" r="2.2" fill="#111" stroke="none" stroke-width="1" fill-opacity="0.62"/>
<circle cx="405.90" cy="293.40" r="2.2" fill="#111" stroke="none" stroke-width="1" fill-opacity="0.62"/>
<circle cx="406.90" cy="307.70" r="2.2" fill="#111" stroke="none" stroke-width="1" fill-opacity="0.62"/>
<circle cx="406.90" cy="332.10" r="2.2" fill="#111" stroke="none" stroke-width="1" fill-opacity="0.62"/>
<circle cx="403.20" cy="337.50" r="2.2" fill="#111" stroke="none" stroke-width="1" fill-opacity="0.62"/>
<circle cx="405.00" cy="339.40" r="2.2" fill="#111" stroke="none" stroke-width="1" fill-opacity="0.62"/>
<circle cx="408.60" cy="339.40" r="2.2" fill="#111" stroke="none" stroke-width="1" fill-opacity="0.62"/>
<circle cx="403.70" cy="343.50" r="2.2" fill="#111" stroke="none" stroke-width="1" fill-opacity="0.62"/>
<circle cx="406.40" cy="346.20" r="2.2" fill="#111" stroke="none" stroke-width="1" fill-opacity="0.62"/>
<circle cx="405.00" cy="348.90" r="2.2" fill="#111" stroke="none" stroke-width="1" fill-opacity="0.62"/>
<circle cx="441.60" cy="266.30" r="2.2" fill="#111" stroke="none" stroke-width="1" fill-opacity="0.62"/>
<circle cx="446.50" cy="267.10" r="2.2" fill="#111" stroke="none" stroke-width="1" fill-opacity="0.62"/>
<circle cx="441.10" cy="272.50" r="2.2" fill="#111" stroke="none" stroke-width="1" fill-opacity="0.62"/>
<circle cx="443.80" cy="275.30" r="2.2" fill="#111" stroke="none" stroke-width="1" fill-opacity="0.62"/>
<circle cx="441.60" cy="278.50" r="2.2" fill="#111" stroke="none" stroke-width="1" fill-opacity="0.62"/>
<circle cx="444.80" cy="279.90" r="2.2" fill="#111" stroke="none" stroke-width="1" fill-opacity="0.62"/>
<circle cx="438.90" cy="282.60" r="2.2" fill="#111" stroke="none" stroke-width="1" fill-opacity="0.62"/>
<circle cx="447.00" cy="282.60" r="2.2" fill="#111" stroke="none" stroke-width="1" fill-opacity="0.62"/>
<circle cx="440.20" cy="286.10" r="2.2" fill="#111" stroke="none" stroke-width="1" fill-opacity="0.62"/>
<circle cx="445.70" cy="288.00" r="2.2" fill="#111" stroke="none" stroke-width="1" fill-opacity="0.62"/>
<circle cx="443.00" cy="290.70" r="2.2" fill="#111" stroke="none" stroke-width="1" fill-opacity="0.62"/>
<circle cx="447.00" cy="293.40" r="2.2" fill="#111" stroke="none" stroke-width="1" fill-opacity="0.62"/>
<circle cx="446.50" cy="299.60" r="2.2" fill="#111" stroke="none" stroke-width="1" fill-opacity="0.62"/>
<circle cx="440.20" cy="315.90" r="2.2" fill="#111" stroke="none" stroke-width="1" fill-opacity="0.62"/>
<line x1="319.10" y1="292.00" x2="319.10" y2="308.30" stroke="#111" stroke-width="1.4" />
<line x1="315.40" y1="292.00" x2="322.80" y2="292.00" stroke="#111" stroke-width="1.4" />
<line x1="315.40" y1="308.30" x2="322.80" y2="308.30" stroke="#111" stroke-width="1.4" />
<line x1="356.70" y1="331.00" x2="356.70" y2="338.00" stroke="#111" stroke-width="1.4" />
<line x1="353.00" y1="331.00" x2="360.40" y2="331.00" stroke="#111" stroke-width="1.4" />
<line x1="353.00" y1="338.00" x2="360.40" y2="338.00" stroke="#111" stroke-width="1.4" />
<line x1="406.15" y1="304.80" x2="406.15" y2="320.50" stroke="#111" stroke-width="1.4" />
<line x1="402.45" y1="304.80" x2="409.85" y2="304.80" stroke="#111" stroke-width="1.4" />
<line x1="402.45" y1="320.50" x2="409.85" y2="320.50" stroke="#111" stroke-width="1.4" />
<line x1="443.90" y1="281.20" x2="443.90" y2="287.20" stroke="#111" stroke-width="1.4" />
<line x1="440.20" y1="281.20" x2="447.60" y2="281.20" stroke="#111" stroke-width="1.4" />
<line x1="440.20" y1="287.20" x2="447.60" y2="287.20" stroke="#111" stroke-width="1.4" />
<path d="M324.7,242 V236 H353.6 V242" fill="none" stroke="#777" stroke-width="0.9" />
<path d="M407.2,248.7 V242.5 H437.5 V248.7" fill="none" stroke="#777" stroke-width="0.9" />
<text transform="translate(341.70,233.60) scale(1.08,1)" font-size="10.5" text-anchor="middle" fill="#111" font-weight="normal" ><tspan font-style="italic">p</tspan> &lt; 0.001</text>
<text transform="translate(420.30,239.10) scale(1.08,1)" font-size="10.5" text-anchor="middle" fill="#111" font-weight="normal" ><tspan font-style="italic">p</tspan> = 0.02</text>
<text transform="translate(358.20,307.80) scale(1.15,1)" font-size="12.5" text-anchor="middle" fill="#777" font-weight="normal" >***</text>
<text transform="translate(405.00,278.60) scale(1.15,1)" font-size="12.5" text-anchor="middle" fill="#777" font-weight="normal" >**</text>
<line x1="319.10" y1="361.70" x2="319.10" y2="364.60" stroke="#333" stroke-width="1" />
<text transform="translate(324.90,372.6) rotate(-45) scale(1.1,1)" font-size="10" text-anchor="end" fill="#222">Y2Y5</text>
<line x1="356.70" y1="361.70" x2="356.70" y2="364.60" stroke="#333" stroke-width="1" />
<text transform="translate(362.50,372.6) rotate(-45) scale(1.1,1)" font-size="10" text-anchor="end" fill="#222">Y8Y11</text>
<line x1="406.20" y1="361.70" x2="406.20" y2="364.60" stroke="#333" stroke-width="1" />
<text transform="translate(412.00,372.6) rotate(-45) scale(1.1,1)" font-size="10" text-anchor="end" fill="#222">Y2Y5</text>
<line x1="443.90" y1="361.70" x2="443.90" y2="364.60" stroke="#333" stroke-width="1" />
<text transform="translate(449.70,372.6) rotate(-45) scale(1.1,1)" font-size="10" text-anchor="end" fill="#222">Y8Y11</text>
<rect x="505.80" y="219.10" width="75.50" height="143.80" fill="#fff" stroke="#bdbdbd" stroke-width="0.9" />
<line x1="505.80" y1="356.20" x2="581.30" y2="356.20" stroke="#ececec" stroke-width="0.6" />
<line x1="502.80" y1="356.20" x2="505.80" y2="356.20" stroke="#444" stroke-width="1" />
<text transform="translate(502.00,359.70) scale(1.08,1)" font-size="10" text-anchor="end" fill="#222" font-weight="normal" >0</text>
<line x1="505.80" y1="322.00" x2="581.30" y2="322.00" stroke="#ececec" stroke-width="0.6" />
<line x1="502.80" y1="322.00" x2="505.80" y2="322.00" stroke="#444" stroke-width="1" />
<text transform="translate(502.00,325.50) scale(1.08,1)" font-size="10" text-anchor="end" fill="#222" font-weight="normal" >25</text>
<line x1="505.80" y1="287.80" x2="581.30" y2="287.80" stroke="#ececec" stroke-width="0.6" />
<line x1="502.80" y1="287.80" x2="505.80" y2="287.80" stroke="#444" stroke-width="1" />
<text transform="translate(502.00,291.30) scale(1.08,1)" font-size="10" text-anchor="end" fill="#222" font-weight="normal" >50</text>
<line x1="505.80" y1="253.60" x2="581.30" y2="253.60" stroke="#ececec" stroke-width="0.6" />
<line x1="502.80" y1="253.60" x2="505.80" y2="253.60" stroke="#444" stroke-width="1" />
<text transform="translate(502.00,257.10) scale(1.08,1)" font-size="10" text-anchor="end" fill="#222" font-weight="normal" >75</text>
<line x1="505.80" y1="219.40" x2="581.30" y2="219.40" stroke="#ececec" stroke-width="0.6" />
<line x1="502.80" y1="219.40" x2="505.80" y2="219.40" stroke="#444" stroke-width="1" />
<text transform="translate(502.00,222.90) scale(1.08,1)" font-size="10" text-anchor="end" fill="#222" font-weight="normal" >100</text>
<line x1="526.35" y1="219.10" x2="526.35" y2="362.90" stroke="#ececec" stroke-width="0.6" />
<line x1="526.35" y1="362.90" x2="526.35" y2="365.90" stroke="#444" stroke-width="1" />
<line x1="560.60" y1="219.10" x2="560.60" y2="362.90" stroke="#ececec" stroke-width="0.6" />
<line x1="560.60" y1="362.90" x2="560.60" y2="365.90" stroke="#444" stroke-width="1" />
<rect x="510.80" y="314.48" width="31.10" height="41.77" fill="#6A3D9A" stroke="none" stroke-width="1" />
<rect x="510.80" y="295.32" width="31.10" height="19.20" fill="#CAB2D6" stroke="none" stroke-width="1" />
<rect x="510.80" y="279.87" width="31.10" height="15.51" fill="#33A02C" stroke="none" stroke-width="1" />
<rect x="510.80" y="278.09" width="31.10" height="1.83" fill="#B2DF8A" stroke="none" stroke-width="1" />
<rect x="510.80" y="241.97" width="31.10" height="36.17" fill="#1F78B4" stroke="none" stroke-width="1" />
<rect x="510.80" y="224.87" width="31.10" height="17.15" fill="#A6CEE3" stroke="none" stroke-width="1" />
<rect x="544.90" y="295.46" width="31.40" height="60.79" fill="#6A3D9A" stroke="none" stroke-width="1" />
<rect x="544.90" y="293.82" width="31.40" height="1.69" fill="#FF7F00" stroke="none" stroke-width="1" />
<rect x="544.90" y="291.63" width="31.40" height="2.24" fill="#FDBF6F" stroke="none" stroke-width="1" />
<rect x="544.90" y="291.22" width="31.40" height="0.46" fill="#E31A1C" stroke="none" stroke-width="1" />
<rect x="544.90" y="286.30" width="31.40" height="4.97" fill="#FB9A99" stroke="none" stroke-width="1" />
<rect x="544.90" y="277.13" width="31.40" height="9.22" fill="#33A02C" stroke="none" stroke-width="1" />
<rect x="544.90" y="275.08" width="31.40" height="2.10" fill="#B2DF8A" stroke="none" stroke-width="1" />
<rect x="544.90" y="261.26" width="31.40" height="13.87" fill="#1F78B4" stroke="none" stroke-width="1" />
<rect x="544.90" y="224.87" width="31.40" height="36.44" fill="#A6CEE3" stroke="none" stroke-width="1" />
<text transform="translate(486.90,275.20) rotate(-90) scale(1.08,1)" font-size="10" text-anchor="middle" fill="#222" font-weight="normal" >Prop. ASV numbers</text>
<text transform="translate(538.6,372.3) rotate(-23) scale(1.02,1)" font-size="10.8" text-anchor="end" fill="#222">Module1</text>
<text transform="translate(573.7,372.3) rotate(-23) scale(1.02,1)" font-size="10.8" text-anchor="end" fill="#222">Module2</text>
<text transform="translate(586.50,232.90) scale(1.08,1)" font-size="10" text-anchor="start" fill="#222" font-weight="normal" >Phylum</text>
<rect x="584.50" y="240.50" width="6.00" height="6.00" fill="#A6CEE3" stroke="none" stroke-width="1" />
<text x="594.3" y="246.9" font-size="10.6" fill="#222" textLength="74.6" lengthAdjust="spacingAndGlyphs">Acidobacteriota</text>
<rect x="584.50" y="252.20" width="6.00" height="6.00" fill="#1F78B4" stroke="none" stroke-width="1" />
<text x="594.3" y="258.4" font-size="10.6" fill="#222" textLength="77.7" lengthAdjust="spacingAndGlyphs">Actinobacteriota</text>
<rect x="584.50" y="263.00" width="6.00" height="6.00" fill="#B2DF8A" stroke="none" stroke-width="1" />
<text x="593.9" y="268.5" font-size="10.6" fill="#222" textLength="60.7" lengthAdjust="spacingAndGlyphs">Bacteroidota</text>
<rect x="584.50" y="273.30" width="6.00" height="6.00" fill="#33A02C" stroke="none" stroke-width="1" />
<text x="592.9" y="279.3" font-size="10.6" fill="#222" textLength="50.7" lengthAdjust="spacingAndGlyphs">Chloroflexi</text>
<rect x="584.50" y="282.60" width="6.00" height="6.00" fill="#FB9A99" stroke="none" stroke-width="1" />
<text x="592.9" y="289.6" font-size="10.6" fill="#222" textLength="50.1" lengthAdjust="spacingAndGlyphs">Firmicutes</text>
<rect x="584.50" y="293.20" width="6.00" height="6.00" fill="#E31A1C" stroke="none" stroke-width="1" />
<text x="592.9" y="298" font-size="10.6" fill="#222" textLength="92.6" lengthAdjust="spacingAndGlyphs">Gemmatimonadota</text>
<rect x="584.50" y="302.10" width="6.00" height="6.00" fill="#FDBF6F" stroke="none" stroke-width="1" />
<text x="594.5" y="307.9" font-size="10.6" fill="#222" textLength="62.5" lengthAdjust="spacingAndGlyphs">Myxococcota</text>
<rect x="584.50" y="310.50" width="6.00" height="6.00" fill="#FF7F00" stroke="none" stroke-width="1" />
<text x="595.5" y="317.9" font-size="10.6" fill="#222" textLength="54.7" lengthAdjust="spacingAndGlyphs">Nitrospirota</text>
<rect x="584.50" y="321.00" width="6.00" height="6.00" fill="#CAB2D6" stroke="none" stroke-width="1" />
<text x="592.9" y="329" font-size="10.6" fill="#222" textLength="79.1" lengthAdjust="spacingAndGlyphs">Planctomycetota</text>
<rect x="584.50" y="332.40" width="6.00" height="6.00" fill="#6A3D9A" stroke="none" stroke-width="1" />
<text x="592.9" y="341" font-size="10.6" fill="#222" textLength="70.0" lengthAdjust="spacingAndGlyphs">Proteobacteria</text>
<circle cx="512.00" cy="422.50" r="3.3" fill="#F5A000" stroke="none" stroke-width="1" />
<circle cx="528.60" cy="515.10" r="3.3" fill="#F5A000" stroke="none" stroke-width="1" />
<circle cx="381.10" cy="425.30" r="3.3" fill="#87CEEB" stroke="none" stroke-width="1" />
<circle cx="408.40" cy="421.70" r="3.3" fill="#87CEEB" stroke="none" stroke-width="1" />
<circle cx="390.00" cy="436.50" r="3.3" fill="#87CEEB" stroke="none" stroke-width="1" />
<circle cx="436.50" cy="440.20" r="3.3" fill="#87CEEB" stroke="none" stroke-width="1" />
<circle cx="442.50" cy="439.40" r="3.3" fill="#87CEEB" stroke="none" stroke-width="1" />
<circle cx="403.60" cy="477.10" r="3.3" fill="#87CEEB" stroke="none" stroke-width="1" />
<circle cx="383.20" cy="515.10" r="3.3" fill="#87CEEB" stroke="none" stroke-width="1" />
<circle cx="427.20" cy="552.00" r="3.3" fill="#87CEEB" stroke="none" stroke-width="1" />
<path d="M507.70,423.00 L512.00,415.60 L516.30,423.00 Z" fill="#87CEEB" stroke="none" stroke-width="1" />
<path d="M546.70,431.40 L551.00,424.00 L555.30,431.40 Z" fill="#87CEEB" stroke="none" stroke-width="1" />
<path d="M549.90,480.80 L554.20,473.40 L558.50,480.80 Z" fill="#87CEEB" stroke="none" stroke-width="1" />
<path d="M510.10,474.10 L514.40,466.70 L518.70,474.10 Z" fill="#87CEEB" stroke="none" stroke-width="1" />
<path d="M525.40,474.10 L529.70,466.70 L534.00,474.10 Z" fill="#87CEEB" stroke="none" stroke-width="1" />
<path d="M526.20,493.70 L530.50,486.30 L534.80,493.70 Z" fill="#87CEEB" stroke="none" stroke-width="1" />
<path d="M507.70,532.10 L512.00,524.70 L516.30,532.10 Z" fill="#87CEEB" stroke="none" stroke-width="1" />
<path d="M492.10,554.60 L496.40,547.20 L500.70,554.60 Z" fill="#87CEEB" stroke="none" stroke-width="1" />
<rect x="475.10" y="494.20" width="6.40" height="6.40" fill="#87CEEB" stroke="none" stroke-width="1" />
<rect x="496.30" y="502.20" width="6.40" height="6.40" fill="#87CEEB" stroke="none" stroke-width="1" />
<rect x="528.10" y="511.90" width="6.40" height="6.40" fill="#87CEEB" stroke="none" stroke-width="1" />
<rect x="508.00" y="527.90" width="6.40" height="6.40" fill="#87CEEB" stroke="none" stroke-width="1" />
<rect x="540.90" y="536.80" width="6.40" height="6.40" fill="#87CEEB" stroke="none" stroke-width="1" />
<rect x="528.80" y="548.80" width="6.40" height="6.40" fill="#87CEEB" stroke="none" stroke-width="1" />
<rect x="533.80" y="548.80" width="6.40" height="6.40" fill="#87CEEB" stroke="none" stroke-width="1" />
<rect x="538.80" y="548.80" width="6.40" height="6.40" fill="#87CEEB" stroke="none" stroke-width="1" />
<line x1="509.60" y1="457.90" x2="519.20" y2="457.90" stroke="#87CEEB" stroke-width="1.2" />
<line x1="514.40" y1="453.10" x2="514.40" y2="462.70" stroke="#87CEEB" stroke-width="1.2" />
<line x1="521.70" y1="457.10" x2="531.30" y2="457.10" stroke="#87CEEB" stroke-width="1.2" />
<line x1="526.50" y1="452.30" x2="526.50" y2="461.90" stroke="#87CEEB" stroke-width="1.2" />
<line x1="532.10" y1="469.40" x2="541.70" y2="469.40" stroke="#87CEEB" stroke-width="1.2" />
<line x1="536.90" y1="464.60" x2="536.90" y2="474.20" stroke="#87CEEB" stroke-width="1.2" />
<line x1="512.50" y1="482.30" x2="522.10" y2="482.30" stroke="#87CEEB" stroke-width="1.2" />
<line x1="517.30" y1="477.50" x2="517.30" y2="487.10" stroke="#87CEEB" stroke-width="1.2" />
<line x1="519.20" y1="525.50" x2="528.80" y2="525.50" stroke="#87CEEB" stroke-width="1.2" />
<line x1="524.00" y1="520.70" x2="524.00" y2="530.30" stroke="#87CEEB" stroke-width="1.2" />
<line x1="517.60" y1="551.50" x2="527.20" y2="551.50" stroke="#87CEEB" stroke-width="1.2" />
<line x1="522.40" y1="546.70" x2="522.40" y2="556.30" stroke="#87CEEB" stroke-width="1.2" />
<line x1="530.50" y1="551.50" x2="540.10" y2="551.50" stroke="#87CEEB" stroke-width="1.2" />
<line x1="535.30" y1="546.70" x2="535.30" y2="556.30" stroke="#87CEEB" stroke-width="1.2" />
<circle cx="532.90" cy="425.30" r="3.3" fill="#F5A000" stroke="none" stroke-width="1" />
<circle cx="506.40" cy="439.40" r="3.3" fill="#F5A000" stroke="none" stroke-width="1" />
<circle cx="524.40" cy="436.00" r="3.3" fill="#F5A000" stroke="none" stroke-width="1" />
<circle cx="526.50" cy="440.50" r="3.3" fill="#F5A000" stroke="none" stroke-width="1" />
<circle cx="506.40" cy="477.40" r="3.3" fill="#F5A000" stroke="none" stroke-width="1" />
<circle cx="549.40" cy="551.70" r="3.3" fill="#F5A000" stroke="none" stroke-width="1" />
<path d="M445.40,422.70 L449.70,415.30 L454.00,422.70 Z" fill="#F5A000" stroke="none" stroke-width="1" />
<path d="M445.40,431.40 L449.70,424.00 L454.00,431.40 Z" fill="#F5A000" stroke="none" stroke-width="1" />
<path d="M441.10,474.40 L445.40,467.00 L449.70,474.40 Z" fill="#F5A000" stroke="none" stroke-width="1" />
<path d="M460.00,480.80 L464.30,473.40 L468.60,480.80 Z" fill="#F5A000" stroke="none" stroke-width="1" />
<path d="M484.90,473.60 L489.20,466.20 L493.50,473.60 Z" fill="#F5A000" stroke="none" stroke-width="1" />
<path d="M447.90,493.70 L452.20,486.30 L456.50,493.70 Z" fill="#F5A000" stroke="none" stroke-width="1" />
<rect x="447.80" y="493.30" width="6.40" height="6.40" fill="#F5A000" stroke="none" stroke-width="1" />
<path d="M437.10,531.60 L441.40,524.20 L445.70,531.60 Z" fill="#F5A000" stroke="none" stroke-width="1" />
<path d="M453.10,554.60 L457.40,547.20 L461.70,554.60 Z" fill="#F5A000" stroke="none" stroke-width="1" />
<rect x="414.90" y="527.90" width="6.40" height="6.40" fill="#F5A000" stroke="none" stroke-width="1" />
<rect x="418.60" y="528.40" width="6.40" height="6.40" fill="#F5A000" stroke="none" stroke-width="1" />
<rect x="410.10" y="537.10" width="6.40" height="6.40" fill="#F5A000" stroke="none" stroke-width="1" />
<rect x="373.60" y="548.30" width="6.40" height="6.40" fill="#F5A000" stroke="none" stroke-width="1" />
<rect x="422.90" y="548.30" width="6.40" height="6.40" fill="#F5A000" stroke="none" stroke-width="1" />
<rect x="469.10" y="502.70" width="6.40" height="6.40" fill="#F5A000" stroke="none" stroke-width="1" />
<rect x="473.20" y="511.90" width="6.40" height="6.40" fill="#F5A000" stroke="none" stroke-width="1" />
<line x1="404.10" y1="457.90" x2="413.70" y2="457.90" stroke="#F5A000" stroke-width="1.2" />
<line x1="408.90" y1="453.10" x2="408.90" y2="462.70" stroke="#F5A000" stroke-width="1.2" />
<line x1="430.10" y1="457.10" x2="439.70" y2="457.10" stroke="#F5A000" stroke-width="1.2" />
<line x1="434.90" y1="452.30" x2="434.90" y2="461.90" stroke="#F5A000" stroke-width="1.2" />
<line x1="426.40" y1="482.30" x2="436.00" y2="482.30" stroke="#F5A000" stroke-width="1.2" />
<line x1="431.20" y1="477.50" x2="431.20" y2="487.10" stroke="#F5A000" stroke-width="1.2" />
<line x1="485.50" y1="468.60" x2="495.10" y2="468.60" stroke="#F5A000" stroke-width="1.2" />
<line x1="490.30" y1="463.80" x2="490.30" y2="473.40" stroke="#F5A000" stroke-width="1.2" />
<line x1="453.40" y1="525.50" x2="463.00" y2="525.50" stroke="#F5A000" stroke-width="1.2" />
<line x1="458.20" y1="520.70" x2="458.20" y2="530.30" stroke="#F5A000" stroke-width="1.2" />
<line x1="351.80" y1="551.50" x2="361.40" y2="551.50" stroke="#F5A000" stroke-width="1.2" />
<line x1="356.60" y1="546.70" x2="356.60" y2="556.30" stroke="#F5A000" stroke-width="1.2" />
<line x1="453.10" y1="551.20" x2="462.70" y2="551.20" stroke="#F5A000" stroke-width="1.2" />
<line x1="457.90" y1="546.40" x2="457.90" y2="556.00" stroke="#F5A000" stroke-width="1.2" />
<line x1="483.10" y1="551.50" x2="492.70" y2="551.50" stroke="#F5A000" stroke-width="1.2" />
<line x1="487.90" y1="546.70" x2="487.90" y2="556.30" stroke="#F5A000" stroke-width="1.2" />
<circle cx="427.20" cy="552.00" r="3.3" fill="#87CEEB" stroke="none" stroke-width="1" />
<path d="M356.80,497.67 L361.62,497.34 L366.43,497.01 L371.25,496.66 L376.06,496.31 L380.88,495.94 L385.69,495.56 L390.50,495.16 L395.32,494.75 L400.13,494.31 L404.95,493.85 L409.76,493.35 L414.58,492.82 L419.39,492.24 L424.21,491.61 L429.02,490.91 L433.84,490.12 L438.65,489.23 L443.47,488.20 L448.28,487.03 L453.10,485.66 L457.91,484.09 L462.73,482.29 L467.54,480.25 L472.36,477.98 L477.17,475.50 L481.99,472.84 L486.80,470.01 L491.62,467.05 L496.43,463.98 L501.25,460.83 L506.06,457.61 L510.88,454.32 L515.69,451.00 L520.51,447.63 L525.33,444.23 L530.14,440.81 L534.95,437.36 L539.77,433.89 L544.59,430.41 L549.40,426.91 L549.40,492.09 L544.59,492.46 L539.77,492.84 L534.95,493.24 L530.14,493.65 L525.33,494.09 L520.51,494.56 L515.69,495.06 L510.88,495.60 L506.06,496.18 L501.25,496.82 L496.43,497.53 L491.62,498.33 L486.80,499.24 L481.99,500.27 L477.17,501.47 L472.36,502.86 L467.54,504.45 L462.73,506.28 L457.91,508.34 L453.10,510.64 L448.28,513.14 L443.47,515.83 L438.65,518.67 L433.84,521.64 L429.02,524.72 L424.21,527.88 L419.39,531.11 L414.58,534.40 L409.76,537.73 L404.95,541.10 L400.13,544.51 L395.32,547.93 L390.50,551.38 L385.69,554.85 L380.88,558.34 L376.06,561.83 L371.25,565.34 L366.43,568.86 L361.62,572.39 L356.80,575.93 Z" fill="#F7B030" stroke="none" stroke-width="1" fill-opacity="0.45"/>
<line x1="356.80" y1="536.80" x2="549.40" y2="459.50" stroke="#F5A000" stroke-width="2.6" />
<path d="M381.30,421.96 L385.62,424.68 L389.94,427.41 L394.26,430.12 L398.58,432.83 L402.90,435.53 L407.22,438.23 L411.54,440.91 L415.86,443.59 L420.18,446.25 L424.50,448.89 L428.82,451.52 L433.14,454.13 L437.46,456.72 L441.78,459.28 L446.10,461.80 L450.42,464.28 L454.74,466.70 L459.06,469.07 L463.38,471.35 L467.70,473.53 L472.02,475.60 L476.34,477.52 L480.66,479.28 L484.98,480.86 L489.30,482.23 L493.62,483.41 L497.94,484.40 L502.26,485.22 L506.58,485.89 L510.90,486.44 L515.22,486.89 L519.54,487.25 L523.86,487.55 L528.18,487.79 L532.50,487.98 L536.82,488.14 L541.14,488.27 L545.46,488.38 L549.78,488.46 L554.10,488.53 L554.10,537.07 L549.78,534.43 L545.46,531.80 L541.14,529.20 L536.82,526.62 L532.50,524.07 L528.18,521.55 L523.86,519.08 L519.54,516.67 L515.22,514.32 L510.90,512.06 L506.58,509.90 L502.26,507.86 L497.94,505.97 L493.62,504.25 L489.30,502.72 L484.98,501.38 L480.66,500.25 L476.34,499.30 L472.02,498.51 L467.70,497.87 L463.38,497.34 L459.06,496.91 L454.74,496.57 L450.42,496.28 L446.10,496.05 L441.78,495.86 L437.46,495.71 L433.14,495.59 L428.82,495.49 L424.50,495.41 L420.18,495.34 L415.86,495.29 L411.54,495.26 L407.22,495.23 L402.90,495.22 L398.58,495.21 L394.26,495.21 L389.94,495.21 L385.62,495.23 L381.30,495.24 Z" fill="#87CEEB" stroke="none" stroke-width="1" fill-opacity="0.4"/>
<line x1="381.30" y1="458.60" x2="554.10" y2="512.80" stroke="#87CEEB" stroke-width="2.6" />
<rect x="347.40" y="412.90" width="216.00" height="171.10" fill="none" stroke="#333" stroke-width="1.1" />
<line x1="347.40" y1="412.90" x2="347.40" y2="584.60" stroke="#262626" stroke-width="1.6" />
<line x1="346.80" y1="584.00" x2="563.90" y2="584.00" stroke="#262626" stroke-width="1.6" />
<line x1="344.20" y1="441.30" x2="347.40" y2="441.30" stroke="#262626" stroke-width="1.1" />
<text transform="translate(340.20,444.90) scale(1.08,1)" font-size="10" text-anchor="end" fill="#222" font-weight="normal" >-1</text>
<line x1="344.20" y1="478.10" x2="347.40" y2="478.10" stroke="#262626" stroke-width="1.1" />
<text transform="translate(340.20,481.70) scale(1.08,1)" font-size="10" text-anchor="end" fill="#222" font-weight="normal" >-2</text>
<line x1="344.20" y1="515.00" x2="347.40" y2="515.00" stroke="#262626" stroke-width="1.1" />
<text transform="translate(340.20,518.60) scale(1.08,1)" font-size="10" text-anchor="end" fill="#222" font-weight="normal" >-3</text>
<line x1="344.20" y1="551.60" x2="347.40" y2="551.60" stroke="#262626" stroke-width="1.1" />
<text transform="translate(340.20,555.20) scale(1.08,1)" font-size="10" text-anchor="end" fill="#222" font-weight="normal" >-4</text>
<line x1="346.80" y1="584.00" x2="346.80" y2="587.20" stroke="#262626" stroke-width="1.1" />
<text transform="translate(346.80,599.20) scale(1.08,1)" font-size="10" text-anchor="middle" fill="#222" font-weight="normal" >-2.25</text>
<line x1="392.00" y1="584.00" x2="392.00" y2="587.20" stroke="#262626" stroke-width="1.1" />
<text transform="translate(392.00,599.20) scale(1.08,1)" font-size="10" text-anchor="middle" fill="#222" font-weight="normal" >-2.00</text>
<line x1="436.90" y1="584.00" x2="436.90" y2="587.20" stroke="#262626" stroke-width="1.1" />
<text transform="translate(436.90,599.20) scale(1.08,1)" font-size="10" text-anchor="middle" fill="#222" font-weight="normal" >-1.75</text>
<line x1="481.70" y1="584.00" x2="481.70" y2="587.20" stroke="#262626" stroke-width="1.1" />
<text transform="translate(481.70,599.20) scale(1.08,1)" font-size="10" text-anchor="middle" fill="#222" font-weight="normal" >-1.50</text>
<line x1="526.90" y1="584.00" x2="526.90" y2="587.20" stroke="#262626" stroke-width="1.1" />
<text transform="translate(526.90,599.20) scale(1.08,1)" font-size="10" text-anchor="middle" fill="#222" font-weight="normal" >-1.25</text>
<text transform="translate(454.20,613.30) scale(1.09,1)" font-size="10" text-anchor="middle" fill="#222" font-weight="normal" >Relative abundance of module</text>
<text transform="translate(456.80,625.50) scale(1.1,1)" font-size="10" text-anchor="middle" fill="#222" font-weight="normal" >(log-transformed)</text>
<text transform="translate(305.30,500.00) rotate(-90) scale(1.09,1)" font-size="10" text-anchor="middle" fill="#222" font-weight="normal" >Relative abundance of <tspan font-style="italic">Meloidogyne</tspan></text>
<text transform="translate(321.60,498.50) rotate(-90) scale(1.12,1)" font-size="10" text-anchor="middle" fill="#222" font-weight="normal" >(log-transformed)</text>
<text x="394" y="568.6" font-size="10.2" fill="#F5A000" textLength="89.8" lengthAdjust="spacing"><tspan font-style="italic">r</tspan>  = 0.4, <tspan font-style="italic">p</tspan> = 0.023</text>
<text x="394.5" y="580.6" font-size="10.2" fill="#87CEEB" textLength="105" lengthAdjust="spacing"><tspan font-style="italic">r</tspan>  = – 0.37, <tspan font-style="italic">p</tspan> = 0.037</text>
<text transform="translate(577.40,425.60) scale(1.08,1)" font-size="10" text-anchor="start" fill="#222" font-weight="normal" >Modules</text>
<rect x="577.40" y="435.00" width="23.60" height="23.70" fill="#FBD38A" stroke="none" stroke-width="1" />
<line x1="579.50" y1="446.90" x2="598.90" y2="446.90" stroke="#F5A000" stroke-width="2.7" />
<circle cx="589.20" cy="446.90" r="3.5" fill="#F5A000" stroke="none" stroke-width="1" />
<text transform="translate(606.90,450.70) scale(1.08,1)" font-size="10" text-anchor="start" fill="#222" font-weight="normal" >Module 1</text>
<rect x="577.40" y="463.10" width="23.60" height="22.40" fill="#CDE9F5" stroke="none" stroke-width="1" />
<line x1="579.50" y1="474.60" x2="598.90" y2="474.60" stroke="#87CEEB" stroke-width="2.7" />
<circle cx="589.20" cy="474.60" r="3.5" fill="#87CEEB" stroke="none" stroke-width="1" />
<text transform="translate(606.90,478.70) scale(1.08,1)" font-size="10" text-anchor="start" fill="#222" font-weight="normal" >Module 2</text>
<text transform="translate(579.20,511.70) scale(1.08,1)" font-size="10" text-anchor="start" fill="#222" font-weight="normal" >Years</text>
<circle cx="588.00" cy="526.50" r="3.1" fill="#111" stroke="none" stroke-width="1" />
<path d="M583.7,543.8 L588,536.4 L592.3,543.8 Z" fill="#111" stroke="none" stroke-width="1" />
<rect x="584.80" y="554.50" width="6.40" height="6.40" fill="#111" stroke="none" stroke-width="1" />
<line x1="583.20" y1="574.50" x2="592.80" y2="574.50" stroke="#111" stroke-width="1.2" />
<line x1="588.00" y1="569.70" x2="588.00" y2="579.30" stroke="#111" stroke-width="1.2" />
<text transform="translate(605.40,530.30) scale(1.08,1)" font-size="10" text-anchor="start" fill="#222" font-weight="normal" >Y2</text>
<text transform="translate(605.40,545.60) scale(1.08,1)" font-size="10" text-anchor="start" fill="#222" font-weight="normal" >Y5</text>
<text transform="translate(605.40,561.20) scale(1.08,1)" font-size="10" text-anchor="start" fill="#222" font-weight="normal" >Y8</text>
<text transform="translate(603.90,578.00) scale(1.08,1)" font-size="10" text-anchor="start" fill="#222" font-weight="normal" >Y11</text>
<rect x="57.20" y="236.60" width="9.30" height="7.40" fill="#F0A21A" stroke="none" stroke-width="1" />
<rect x="57.20" y="255.40" width="9.30" height="7.40" fill="#80C4E2" stroke="none" stroke-width="1" />
<text transform="translate(70.00,244.00) scale(1.1,1)" font-size="10" text-anchor="start" fill="#222" font-weight="normal" >Module 1</text>
<text transform="translate(70.00,262.90) scale(1.1,1)" font-size="10" text-anchor="start" fill="#222" font-weight="normal" >Module 2</text>
<circle cx="162.20" cy="242.00" r="4.2" fill="#238B3A" stroke="none" stroke-width="1" />
<circle cx="161.40" cy="260.60" r="4.2" fill="#2171B0" stroke="none" stroke-width="1" />
<text transform="translate(168.60,245.60) scale(1.1,1)" font-size="10" text-anchor="start" fill="#222" font-weight="normal" >Y2Y5</text>
<text transform="translate(168.60,264.80) scale(1.1,1)" font-size="10" text-anchor="start" fill="#222" font-weight="normal" >Y8Y11</text>
<path d="M82.40,354.60 C81.45,351.10 85.12,347.42 87.20,343.10 C89.28,338.78 92.03,333.17 94.90,328.70 C97.77,324.23 100.58,319.95 104.40,316.30 C108.22,312.65 113.33,309.35 117.80,306.80 C122.27,304.25 127.07,302.67 131.20,301.00 C135.33,299.33 139.10,297.60 142.60,296.80 C146.10,296.00 149.33,295.50 152.20,296.20 C155.07,296.90 157.57,298.60 159.80,301.00 C162.03,303.40 163.68,307.08 165.60,310.60 C167.52,314.12 169.23,317.97 171.30,322.10 C173.37,326.23 176.25,331.27 178.00,335.40 C179.75,339.53 181.25,343.07 181.80,346.90 C182.35,350.73 182.08,354.58 181.30,358.40 C180.52,362.22 179.08,365.98 177.10,369.80 C175.12,373.62 172.12,378.17 169.40,381.30 C166.68,384.43 163.35,387.17 160.80,388.60 C158.25,390.03 157.13,390.15 154.10,389.90 C151.07,389.65 147.05,388.85 142.60,387.10 C138.15,385.35 133.13,381.95 127.40,379.40 C121.67,376.85 113.95,374.35 108.20,371.80 C102.45,369.25 97.20,366.97 92.90,364.10 C88.60,361.23 83.35,358.10 82.40,354.60 Z" fill="#80C4E2" stroke="none" stroke-width="1" />
<path d="M139.60,469.70 C140.78,466.12 141.92,459.38 144.30,455.40 C146.68,451.42 149.12,449.38 153.90,445.80 C158.68,442.22 166.63,437.40 173.00,433.90 C179.37,430.40 186.92,426.72 192.10,424.80 C197.28,422.88 200.72,422.40 204.10,422.40 C207.48,422.40 209.22,423.28 212.40,424.80 C215.58,426.32 219.82,428.78 223.20,431.50 C226.58,434.22 229.52,437.12 232.70,441.10 C235.88,445.08 239.82,450.23 242.30,455.40 C244.78,460.57 246.60,467.72 247.60,472.10 C248.60,476.48 248.78,478.52 248.30,481.70 C247.82,484.88 247.30,487.22 244.70,491.20 C242.10,495.18 237.88,500.42 232.70,505.60 C227.52,510.78 220.37,516.73 213.60,522.30 C206.83,527.87 198.47,534.62 192.10,539.00 C185.73,543.38 179.78,546.60 175.40,548.60 C171.02,550.60 168.98,551.40 165.80,551.00 C162.62,550.60 159.28,549.78 156.30,546.20 C153.32,542.62 150.48,535.47 147.90,529.50 C145.32,523.53 142.52,516.78 140.80,510.40 C139.08,504.02 138.20,496.78 137.60,491.20 C137.00,485.62 136.87,480.48 137.20,476.90 C137.53,473.32 138.42,473.28 139.60,469.70 Z" fill="#F0A21A" stroke="none" stroke-width="1" />
<path d="M123.1,284.2L126.4,329.3M132.7,290.5L127.7,337.0M144.6,295.7L130.9,336.2M144.6,295.7L139.2,304.9M163.3,295.3L119.8,353.5M168.4,299.1L119.8,353.5M168.4,299.1L167.9,315.4M182.8,300.1L130.9,340.6M182.8,300.1L168.4,299.1M187.0,304.9L104.0,360.0M196.2,314.4L114.9,349.2M176.1,315.9L121.6,346.5M185.7,325.9L101.1,352.4M185.7,325.9L177.1,323.0M199.0,331.2L134.0,343.1M179.0,342.7L174.2,339.3M187.6,345.0L101.8,342.2M195.2,357.4L119.4,342.2M189.5,359.3L119.4,342.2M184.3,370.2L113.8,337.8M173.2,357.4L160.0,352.0M173.2,357.4L166.0,345.0M93.9,306.2L129.8,348.3M99.2,303.3L136.9,357.0M99.2,303.3L95.8,312.9M105.0,301.4L140.0,366.0M95.8,312.9L142.1,354.7M125.8,390.9L128.2,341.2M129.3,379.4L132.7,369.5M129.3,379.4L128.0,364.0M125.4,303.3L127.7,337.0M130.8,312.5L137.4,317.7M130.8,312.5L106.0,350.0M120.7,312.9L119.7,319.5M120.7,312.9L128.2,341.2M139.2,304.9L130.8,312.5M139.2,304.9L137.9,319.2M139.2,304.9L134.0,343.1M137.9,319.2L137.1,323.0M137.9,319.2L121.6,332.5M115.9,321.1L110.5,367.6M115.9,321.1L106.0,350.0M115.9,321.1L120.7,312.9M115.9,321.1L108.0,340.0M152.2,316.3L142.0,318.0M152.2,316.3L152.2,331.2M152.2,316.3L113.2,340.4M167.9,315.4L158.0,320.0M167.9,315.4L152.2,316.3M177.1,323.0L117.9,348.1M174.2,339.3L166.0,345.0M174.2,339.3L157.0,344.0M174.2,339.3L124.2,356.0M118.0,330.0L130.8,312.5M118.0,330.0L113.2,340.4M118.0,330.0L138.4,342.1M118.0,330.0L142.1,354.7M126.0,326.0L137.9,319.2M126.0,326.0L116.7,334.5M126.0,326.0L103.7,365.2M126.0,326.0L130.9,336.2M134.0,322.0L154.1,340.8M134.0,322.0L121.6,346.5M134.0,322.0L140.7,335.4M134.0,322.0L106.0,350.0M142.0,318.0L137.1,323.0M142.0,318.0L140.7,335.4M142.0,318.0L119.4,342.2M108.0,340.0L120.7,312.9M108.0,340.0L151.0,345.0M108.0,340.0L160.8,341.6M108.0,340.0L109.4,371.9M116.0,338.0L124.2,356.0M116.0,338.0L113.4,353.3M116.0,338.0L124.0,352.0M116.0,338.0L112.0,356.0M124.0,352.0L116.7,334.5M124.0,352.0L134.0,343.1M124.0,352.0L114.9,349.2M124.0,352.0L105.0,319.9M130.0,350.0L120.7,312.9M130.0,350.0L147.4,341.2M130.0,350.0L128.2,341.2M130.0,350.0L146.5,346.9M112.0,356.0L119.7,319.5M112.0,356.0L128.0,364.0M112.0,356.0L138.4,342.1M112.0,356.0L111.2,349.8M106.0,350.0L140.7,335.4M106.0,350.0L140.0,366.0M106.0,350.0L113.4,353.3M106.0,350.0L103.7,365.2M100.0,346.0L106.0,350.0M100.0,346.0L126.4,329.3M140.0,350.0L160.8,341.6M140.0,350.0L105.0,319.9M140.0,350.0L132.7,369.5M140.0,350.0L137.1,323.0M160.0,352.0L156.8,349.4M160.0,352.0L157.0,344.0M166.0,345.0L160.8,341.6M166.0,345.0L161.4,334.9M166.0,330.0L161.4,334.9M166.0,330.0L156.0,337.0M166.0,330.0L150.0,338.0M158.0,320.0L148.0,326.5M158.0,320.0L127.7,337.0M128.0,364.0L130.9,340.6M128.0,364.0L156.8,349.4M128.0,364.0L147.4,341.2M128.0,364.0L146.8,347.6M140.0,366.0L124.2,356.0M140.0,366.0L140.5,366.7M140.0,366.0L126.2,330.5M140.0,366.0L132.7,369.5M152.0,356.0L146.4,352.2M152.0,356.0L143.6,357.0M120.0,342.0L102.9,336.4M120.0,342.0L120.7,358.4M120.0,342.0L160.8,341.6M120.0,342.0L116.0,338.0M96.0,352.0L101.1,352.4M96.0,352.0L103.0,354.8M104.0,360.0L112.0,356.0M104.0,360.0L116.8,367.0M104.0,360.0L130.0,350.0M220.8,422.4L116.7,334.5M220.8,422.4L184.3,370.2M126.2,330.5L128.2,341.2M126.2,330.5L137.6,337.3M126.2,330.5L140.7,335.4M126.2,330.5L160.0,352.0M103.7,365.2L104.0,360.0M103.7,365.2L112.0,356.0M137.1,323.0L109.4,371.9M137.1,323.0L125.4,360.7M137.1,323.0L150.0,338.0M137.1,323.0L147.4,363.2M113.8,337.8L140.5,366.7M113.8,337.8L134.0,343.1M113.8,337.8L128.0,364.0M113.8,337.8L138.4,342.1M116.7,334.5L118.0,330.0M116.7,334.5L137.9,319.2M116.7,334.5L103.0,354.8M116.7,334.5L117.6,371.3M127.1,334.9L101.0,362.2M127.1,334.9L126.4,329.3M127.1,334.9L118.0,330.0M127.1,334.9L137.9,319.2M118.7,351.4L147.4,341.2M118.7,351.4L114.9,349.2M118.7,351.4L116.0,338.0M118.7,351.4L111.2,349.8M117.9,348.1L108.0,340.0M117.9,348.1L150.0,338.0M117.9,348.1L126.4,329.3M117.9,348.1L101.7,335.0M131.8,334.7L128.0,364.0M131.8,334.7L116.0,338.0M131.8,334.7L137.4,317.7M131.8,334.7L148.0,326.5M105.0,319.9L111.1,324.4M105.0,319.9L115.9,321.1M130.9,340.6L156.0,337.0M130.9,340.6L110.5,367.6M130.9,340.6L160.0,352.0M130.9,340.6L121.6,332.5M138.0,364.6L117.6,371.3M138.0,364.6L124.0,352.0M138.0,364.6L138.8,359.3M138.0,364.6L103.0,354.8M113.2,340.4L116.0,338.0M113.2,340.4L156.8,349.4M113.2,340.4L115.9,321.1M113.2,340.4L109.1,338.4M116.7,320.6L140.7,335.4M116.7,320.6L120.7,312.9M116.7,320.6L146.5,346.9M116.7,320.6L125.4,360.7M92.8,349.5L100.0,346.0M92.8,349.5L101.1,352.4M129.8,348.3L124.0,352.0M129.8,348.3L130.0,350.0M129.8,348.3L114.9,349.2M129.8,348.3L100.0,346.0M124.2,356.0L105.0,319.9M124.2,356.0L156.8,349.4M124.2,356.0L150.0,338.0M124.2,356.0L109.4,371.9M142.1,354.7L113.4,353.3M142.1,354.7L156.0,337.0M142.1,354.7L147.4,363.2M142.1,354.7L134.0,343.1M126.4,329.3L119.7,319.5M126.4,329.3L136.6,341.1M126.4,329.3L101.8,342.2M126.4,329.3L148.0,326.5M101.7,335.0L108.0,340.0M101.7,335.0L109.1,338.4M101.7,335.0L128.0,364.0M119.8,353.5L111.2,349.8M119.8,353.5L137.9,319.2M119.8,353.5L118.7,351.4M119.8,353.5L101.0,362.2M109.4,371.9L110.5,367.6M109.4,371.9L112.0,356.0M109.4,371.9L118.0,330.0M121.6,332.5L128.2,341.2M121.6,332.5L124.2,356.0M121.6,332.5L140.0,366.0M121.6,332.5L143.6,357.0M94.6,353.7L101.1,352.4M131.8,336.4L131.0,340.0M131.8,336.4L109.4,371.9M131.8,336.4L125.4,360.7M131.8,336.4L136.6,341.1M117.6,371.3L116.8,367.0M117.6,371.3L125.4,360.7M117.6,371.3L131.8,336.4M119.4,342.2L137.1,323.0M119.4,342.2L114.9,349.2M119.4,342.2L126.9,349.6M119.4,342.2L131.0,340.0M128.2,341.2L137.1,323.0M128.2,341.2L116.7,334.5M128.2,341.2L113.4,353.3M128.2,341.2L127.1,334.9M124.4,333.5L134.0,343.1M124.4,333.5L126.4,329.3M124.4,333.5L113.8,337.8M124.4,333.5L128.0,364.0M113.4,353.3L128.0,364.0M113.4,353.3L109.1,338.4M113.4,353.3L121.6,332.5M113.4,353.3L126.0,326.0M130.9,336.2L116.8,367.0M130.9,336.2L108.0,340.0M130.9,336.2L113.2,340.4M130.9,336.2L96.0,352.0M130.7,344.3L100.0,346.0M130.7,344.3L137.4,317.7M130.7,344.3L103.0,354.8M130.7,344.3L113.2,340.4M146.4,352.2L116.7,334.5M146.4,352.2L130.7,344.3M146.4,352.2L128.2,341.2M146.4,352.2L154.1,349.8M156.8,349.4L151.0,345.0M156.8,349.4L146.5,346.9M142.7,342.3L146.5,346.9M142.7,342.3L137.4,317.7M142.7,342.3L101.7,335.0M142.7,342.3L116.0,338.0M126.9,349.6L118.0,330.0M126.9,349.6L113.2,340.4M126.9,349.6L154.1,340.8M126.9,349.6L126.0,326.0M136.6,341.1L143.6,357.0M136.6,341.1L110.5,367.6M136.6,341.1L113.2,340.4M136.6,341.1L140.7,335.4M137.4,317.7L137.1,323.0M137.4,317.7L134.0,322.0M119.7,319.5L130.9,336.2M119.7,319.5L137.4,317.7M119.7,319.5L103.7,365.2M119.7,319.5L115.9,321.1M101.8,342.2L108.0,340.0M101.8,342.2L127.1,334.9M103.0,354.8L106.0,350.0M111.2,349.8L100.0,346.0M111.2,349.8L136.6,341.1M111.2,349.8L106.0,350.0M111.2,349.8L154.1,349.8M146.8,347.6L111.1,324.4M146.8,347.6L120.7,358.4M146.8,347.6L114.9,349.2M146.8,347.6L119.4,342.2M109.1,338.4L116.0,338.0M109.1,338.4L138.8,359.3M109.1,338.4L137.1,323.0M109.1,338.4L101.8,342.2M98.2,357.1L103.0,354.8M98.2,357.1L101.1,352.4M101.1,352.4L106.0,350.0M101.1,352.4L111.2,349.8M101.1,352.4L128.2,341.2M140.5,366.7L157.0,344.0M140.5,366.7L121.6,332.5M140.5,366.7L148.0,326.5M140.5,366.7L101.0,362.2M137.6,337.3L101.1,352.4M137.6,337.3L109.1,338.4M137.6,337.3L160.8,341.6M137.6,337.3L131.0,340.0M148.8,305.8L152.2,316.3M148.8,305.8L137.4,317.7M148.8,305.8L111.1,324.4M111.1,324.4L160.0,352.0M111.1,324.4L136.6,341.1M111.1,324.4L137.4,317.7M111.1,324.4L137.1,323.0M148.0,326.5L137.1,323.0M152.2,331.2L150.0,338.0M152.2,331.2L140.7,335.4M152.2,331.2L129.8,348.3M102.9,336.4L108.0,340.0M102.9,336.4L109.1,338.4M102.9,336.4L111.1,324.4M161.4,334.9L156.0,337.0M127.7,337.0L137.6,337.3M127.7,337.0L101.7,335.0M127.7,337.0L130.9,340.6M127.7,337.0L116.8,367.0M140.7,335.4L137.9,319.2M140.7,335.4L121.6,332.5M140.7,335.4L109.1,338.4M140.7,335.4L124.0,352.0M134.0,343.1L118.0,330.0M134.0,343.1L126.9,349.6M134.0,343.1L109.4,371.9M134.0,343.1L148.0,326.5M138.4,342.1L146.4,352.2M138.4,342.1L151.0,345.0M138.4,342.1L113.2,340.4M138.4,342.1L111.2,349.8M147.4,341.2L115.9,321.1M147.4,341.2L116.7,334.5M147.4,341.2L108.0,340.0M147.4,341.2L156.8,349.4M154.1,340.8L150.0,338.0M154.1,340.8L136.6,341.1M160.8,341.6L157.0,344.0M146.5,346.9L101.8,342.2M146.5,346.9L152.0,356.0M146.5,346.9L101.1,352.4M146.5,346.9L132.7,369.5M154.1,349.8L151.0,345.0M154.1,349.8L145.0,344.0M172.3,349.8L166.0,345.0M172.3,349.8L160.0,352.0M114.9,349.2L126.9,349.6M114.9,349.2L140.5,366.7M114.9,349.2L152.2,331.2M114.9,349.2L129.8,348.3M121.6,346.5L150.0,338.0M121.6,346.5L152.2,331.2M121.6,346.5L154.1,349.8M121.6,346.5L96.0,352.0M92.0,358.0L94.6,353.7M92.0,358.0L101.0,362.2M92.0,358.0L137.6,337.3M120.7,358.4L154.1,340.8M120.7,358.4L113.8,337.8M120.7,358.4L124.2,356.0M120.7,358.4L140.0,366.0M125.4,360.7L111.1,324.4M125.4,360.7L140.5,366.7M125.4,360.7L138.0,364.6M125.4,360.7L127.7,337.0M136.9,357.0L146.8,347.6M136.9,357.0L137.1,323.0M136.9,357.0L130.7,344.3M136.9,357.0L137.6,337.3M143.6,357.0L100.0,346.0M143.6,357.0L109.1,338.4M143.6,357.0L130.8,312.5M143.6,357.0L147.4,341.2M138.8,359.3L128.2,341.2M138.8,359.3L115.9,321.1M138.8,359.3L137.6,337.3M138.8,359.3L126.0,326.0M147.4,363.2L143.6,357.0M147.4,363.2L146.4,352.2M159.8,362.6L152.0,356.0M159.8,362.6L128.0,364.0M97.7,364.1L101.0,362.2M97.7,364.1L145.0,344.0M101.0,362.2L104.0,360.0M101.0,362.2L112.0,356.0M101.0,362.2L136.9,357.0M110.5,367.6L116.8,367.0M110.5,367.6L113.4,353.3M110.5,367.6L136.9,357.0M116.8,367.0L140.5,366.7M116.8,367.0L126.4,329.3M116.8,367.0L106.0,350.0M116.8,367.0L103.7,365.2M132.7,369.5L146.4,352.2M132.7,369.5L160.8,341.6M132.7,369.5L115.9,321.1M132.7,369.5L130.9,340.6M146.5,373.3L140.5,366.7M146.5,373.3L140.0,366.0M146.5,373.3L118.7,351.4M155.1,379.8L146.5,373.3M155.1,379.8L140.5,366.7M155.1,379.8L146.8,347.6M150.0,338.0L131.8,334.7M150.0,338.0L160.8,341.6M150.0,338.0L146.8,347.6M150.0,338.0L106.0,350.0M156.0,337.0L150.0,338.0M156.0,337.0L151.0,345.0M143.0,338.0L160.8,341.6M143.0,338.0L105.0,319.9M143.0,338.0L110.5,367.6M143.0,338.0L137.1,323.0M131.0,340.0L147.4,363.2M131.0,340.0L140.5,366.7M131.0,340.0L142.7,342.3M131.0,340.0L137.9,319.2M145.0,344.0L128.2,341.2M145.0,344.0L154.1,349.8M145.0,344.0L130.7,344.3M145.0,344.0L140.5,366.7M151.0,345.0L154.1,340.8M151.0,345.0L120.0,342.0M151.0,345.0L137.6,337.3M151.0,345.0L113.8,337.8M157.0,344.0L151.0,345.0M224.4,431.5L143.6,357.0M86.2,331.2L76.7,343.1M76.7,343.1L75.0,353.1M74.8,353.6L71.9,365.1M58.7,331.8L50.8,343.7M58.7,331.8L49.6,356.3M85.8,331.8L76.7,343.1M35.6,340.5L50.8,343.7M35.6,340.5L40.8,365.4M50.8,343.7L49.6,356.3M76.7,343.1L71.9,365.1M75.0,353.1L71.9,365.1M62.2,361.2L71.9,365.1M62.2,361.2L71.3,377.4M40.8,365.4L49.1,364.2M40.8,365.4L51.7,374.7M49.1,364.2L51.7,374.7M49.1,364.2L56.9,372.9M31.5,375.9L40.8,365.4M31.5,375.9L56.9,372.9M51.7,374.7L56.9,372.9M51.7,374.7L62.7,385.7M56.9,372.9L62.7,385.7M56.9,372.9L71.3,377.4M52.2,380.8L54.3,387.5M52.2,380.8L68.2,383.2M32.9,386.4L52.2,380.8M54.3,387.5L58.7,393.9M62.7,385.7L68.2,383.2M62.7,385.7L70.0,388.0M58.7,393.9L65.7,395.4M58.7,393.9L66.6,390.6M51.7,406.6L61.3,405.7M61.3,405.7L65.7,395.4M61.3,405.7L66.0,395.0M64.8,410.2L74.0,400.0M64.8,410.2L58.7,393.9M100.7,390.4L96.3,393.1M100.7,390.4L89.0,389.0M88.5,399.2L90.0,392.0M88.5,399.2L85.3,390.1M72.0,378.0L82.0,388.0M72.0,378.0L66.0,395.0M72.0,378.0L85.3,390.1M78.0,381.0L70.0,388.0M78.0,381.0L69.3,387.8M78.0,381.0L72.0,378.0M84.0,377.0L76.0,392.0M84.0,377.0L85.3,390.1M84.0,377.0L75.4,395.4M70.0,388.0L78.0,381.0M70.0,388.0L78.6,371.8M70.0,388.0L84.0,377.0M76.0,392.0L90.0,392.0M76.0,392.0L92.0,380.0M76.0,392.0L75.4,395.4M82.0,388.0L74.5,398.6M82.0,388.0L71.3,377.4M82.0,388.0L85.0,402.0M88.0,384.0L74.5,398.6M88.0,384.0L82.0,388.0M88.0,384.0L68.2,383.2M80.0,396.0L85.0,402.0M80.0,396.0L88.5,399.2M80.0,396.0L77.1,391.2M74.0,400.0L75.4,395.4M66.0,395.0L69.3,387.8M90.0,392.0L76.0,392.0M90.0,392.0L74.5,398.6M90.0,392.0L75.4,395.4M85.0,402.0L80.0,396.0M85.0,402.0L85.3,390.1M92.0,380.0L88.0,384.0M92.0,380.0L85.3,390.1M74.5,398.6L68.2,383.2M74.5,398.6L76.0,392.0M74.5,398.6L84.0,377.0M75.4,395.4L71.3,377.4M75.4,395.4L88.5,399.2M75.4,395.4L66.0,395.0M89.9,400.4L90.0,392.0M71.3,377.4L78.0,381.0M65.7,395.4L69.3,387.8M69.3,387.8L77.1,391.2M69.3,387.8L85.0,402.0M69.3,387.8L65.7,395.4M68.2,383.2L69.3,387.8M68.2,383.2L82.0,388.0M68.2,383.2L89.9,400.4M77.1,391.2L65.7,395.4M77.1,391.2L66.0,395.0M77.1,391.2L78.6,371.8M85.3,390.1L80.0,396.0M85.3,390.1L84.0,377.0M85.3,390.1L89.0,389.0M96.3,393.1L90.0,392.0M66.6,390.6L70.0,388.0M66.6,390.6L80.0,396.0M89.0,389.0L70.0,388.0M89.0,389.0L66.0,395.0M89.0,389.0L71.3,377.4M99.6,370.8L92.0,380.0M105.9,377.1L92.0,380.0M114.9,378.5L105.9,377.1M105.9,394.1L100.7,390.4M105.9,394.1L90.0,392.0M71.9,365.1L78.6,371.8M71.9,365.1L85.7,370.8M78.6,371.8L84.0,377.0M78.6,371.8L72.0,378.0M85.7,370.8L84.0,377.0M85.7,370.8L88.0,384.0M49.6,356.3L49.1,364.2M256.1,359.3L250.0,380.0M256.1,359.3L256.4,373.1M249.0,376.6L245.0,390.0M249.0,376.6L255.0,387.0M249.0,376.6L247.0,384.0M251.5,374.0L248.1,386.2M246.5,378.0L250.4,383.4M246.5,378.0L254.0,379.0M246.5,378.0L254.5,378.1M254.0,379.0L249.2,387.6M254.0,379.0L246.4,391.2M254.0,379.0L247.0,384.0M244.0,381.0L254.0,379.0M244.0,381.0L254.5,378.1M244.0,381.0L249.0,376.6M250.0,380.0L254.0,379.0M250.0,380.0L248.1,386.2M250.0,380.0L240.0,386.8M252.0,383.0L258.0,392.0M252.0,383.0L248.8,387.8M252.0,383.0L254.5,378.1M247.0,384.0L249.2,387.6M247.0,384.0L251.5,374.0M247.0,384.0L252.0,383.0M240.0,386.8L247.0,384.0M241.3,394.5L254.0,379.0M241.3,394.5L245.0,390.0M271.4,391.1L248.1,386.2M258.0,392.0L250.4,383.4M262.0,396.0L244.0,381.0M245.0,390.0L246.5,378.0M245.0,390.0L250.4,383.4M245.0,390.0L251.5,374.0M255.0,387.0L254.5,378.1M255.0,387.0L250.0,380.0M255.0,387.0L248.1,386.2M248.0,398.0L249.2,387.6M244.3,397.0L250.0,380.0M250.7,377.2L251.5,374.0M250.7,377.2L255.3,380.1M250.7,377.2L246.4,391.2M254.5,378.1L255.3,380.1M254.5,378.1L258.0,392.0M254.5,378.1L249.2,387.6M255.3,380.1L250.7,377.2M255.3,380.1L258.0,392.0M255.3,380.1L255.0,387.0M240.2,396.9L254.5,378.1M248.8,387.8L240.0,386.8M248.8,387.8L250.4,383.4M248.8,387.8L258.0,392.0M246.4,391.2L258.0,392.0M246.4,391.2L249.0,376.6M246.4,391.2L250.4,383.4M249.2,387.6L247.0,384.0M249.2,387.6L251.5,374.0M249.2,387.6L250.0,380.0M250.4,383.4L254.5,378.1M250.4,383.4L250.7,377.2M250.4,383.4L251.5,374.0M256.4,373.1L245.0,390.0M249.9,373.0L248.8,387.8M248.1,386.2L245.0,390.0M248.1,386.2L246.5,378.0M248.1,386.2L247.0,384.0M259.2,401.3L252.0,405.0M259.2,401.3L237.0,402.1M264.3,404.6L263.0,413.6M264.3,404.6L254.1,412.3M263.0,413.6L254.1,412.3M263.0,413.6L256.1,425.0M254.1,412.3L242.3,422.4M240.0,408.5L235.7,416.6M237.0,402.1L240.0,408.5M237.0,402.1L254.1,412.3M235.7,416.6L242.3,422.4M256.1,425.0L249.0,428.9M266.0,427.6L256.1,425.0M266.0,427.6L243.9,435.2M249.0,428.9L242.3,422.4M243.9,435.2L249.0,428.9M243.9,435.2L242.3,422.4M250.3,440.3L243.9,435.2M254.1,444.1L250.3,440.3M254.1,444.1L249.0,428.9M246.4,445.4L250.3,440.3M246.4,445.4L242.3,422.4M252.0,405.0L254.1,412.3M252.0,405.0L256.1,425.0M232.3,440.3L243.9,435.2M232.3,440.3L235.7,416.6M257.8,461.4L213.2,470.2M246.6,468.5L213.2,470.2M253.1,478.8L197.0,471.0M253.1,478.8L246.6,468.5M248.8,497.2L199.3,473.3M149.3,504.1L167.0,492.0M149.3,504.1L206.0,484.1M175.5,536.4L185.1,524.9M185.1,524.9L191.6,522.8M185.1,524.9L194.5,467.3M191.8,522.9L189.8,505.7M180.2,505.7L189.7,505.6M189.8,505.7L196.9,488.9M166.3,448.2L170.0,462.0M166.3,448.2L194.5,467.3M183.0,437.5L194.0,453.0M190.2,434.4L194.0,453.0M190.2,434.4L207.7,461.4M168.2,485.3L180.2,490.0M171.8,496.5L180.2,490.0M179.7,505.6L189.7,505.6M179.7,505.6L198.0,484.0M189.7,505.6L196.9,488.9M189.7,505.6L202.0,476.0M199.3,504.4L200.0,489.0M199.3,504.4L194.5,467.3M212.4,505.1L199.3,504.4M212.4,505.1L190.0,480.0M218.9,502.7L210.0,490.0M218.9,502.7L207.7,461.4M201.7,520.4L199.3,504.4M191.6,522.8L189.8,505.7M191.6,522.8L192.0,478.0M185.0,524.7L201.7,520.4M174.9,536.2L185.1,524.9M174.9,536.2L207.7,461.4M149.1,504.4L148.4,496.7M143.6,516.8L149.1,504.4M143.6,516.8L192.1,485.3M196.0,470.0L196.9,488.9M196.0,470.0L213.2,470.2M196.0,470.0L192.1,485.3M202.0,476.0L192.1,485.3M202.0,476.0L200.0,489.0M202.0,476.0L199.3,460.2M192.0,478.0L215.0,476.0M192.0,478.0L189.7,459.0M192.0,478.0L198.0,484.0M208.0,472.0L213.2,470.2M208.0,472.0L198.0,484.0M208.0,472.0L205.0,475.0M186.0,476.0L199.3,473.3M186.0,476.0L195.0,476.0M186.0,476.0L207.7,461.4M215.0,476.0L208.0,472.0M215.0,476.0L205.0,475.0M220.0,462.0L213.2,470.2M210.0,490.0L210.0,486.0M230.0,476.0L226.1,471.4M230.0,476.0L207.0,480.0M236.0,466.0L226.1,471.4M175.0,470.0L179.5,464.5M170.0,462.0L175.0,470.0M170.0,462.0L192.1,473.3M216.0,486.0L210.0,486.0M234.0,494.0L226.8,497.2M234.0,494.0L185.0,471.6M167.9,542.5L174.9,536.2M167.9,542.5L192.0,478.0M201.2,435.6L204.1,454.2M201.2,435.6L200.0,466.0M208.1,436.8L204.1,454.2M208.1,436.8L198.0,484.0M226.3,448.9L216.5,458.5M226.3,448.9L197.0,471.0M152.7,459.0L166.3,448.2M180.2,458.3L189.7,459.0M180.2,458.3L199.3,460.2M194.0,453.0L189.7,459.0M204.1,454.2L199.3,460.2M189.7,459.0L212.0,478.8M189.7,459.0L200.0,489.0M189.7,459.0L182.6,484.1M199.3,460.2L201.7,480.5M199.3,460.2L207.7,461.4M199.3,460.2L185.0,471.6M207.7,461.4L196.9,488.9M207.7,461.4L182.6,484.1M207.7,461.4L206.0,484.1M216.5,458.5L207.7,461.4M232.3,458.3L223.2,467.3M232.3,458.3L201.7,480.5M179.5,464.5L188.0,466.0M194.5,467.3L183.8,478.1M194.5,467.3L198.0,484.0M194.5,467.3L189.0,474.0M204.6,468.5L212.0,478.8M204.6,468.5L188.0,466.0M204.6,468.5L182.6,484.1M213.2,470.2L208.0,472.0M213.2,470.2L193.0,482.0M223.2,467.3L213.2,470.2M226.1,471.4L220.0,462.0M226.1,471.4L192.1,473.3M185.0,471.6L206.0,484.1M185.0,471.6L202.0,476.0M185.0,471.6L200.0,466.0M192.1,473.3L186.0,486.0M192.1,473.3L195.0,476.0M192.1,473.3L194.5,467.3M199.3,473.3L210.0,486.0M199.3,473.3L206.0,484.1M199.3,473.3L195.0,476.0M183.8,478.1L197.0,471.0M183.8,478.1L199.3,460.2M183.8,478.1L186.0,486.0M201.7,480.5L210.0,486.0M201.7,480.5L179.5,464.5M201.7,480.5L215.0,476.0M212.0,478.8L207.0,480.0M162.3,478.1L168.2,485.3M160.6,484.1L162.3,478.1M160.6,484.1L196.0,470.0M140.0,484.8L148.4,496.7M140.0,484.8L202.0,476.0M167.0,492.0L168.2,485.3M182.6,484.1L183.8,478.1M180.2,490.0L182.6,484.1M192.1,485.3L205.0,475.0M192.1,485.3L186.0,476.0M192.1,485.3L186.0,486.0M196.9,488.9L198.0,484.0M206.0,484.1L197.0,471.0M206.0,484.1L215.0,476.0M206.0,484.1L182.6,484.1M224.4,483.6L216.0,486.0M224.4,483.6L193.0,482.0M237.0,486.0L230.0,476.0M237.0,486.0L185.0,471.6M148.4,496.7L160.6,484.1M148.4,496.7L205.0,475.0M226.8,497.2L224.4,483.6M195.0,476.0L194.0,453.0M195.0,476.0L205.0,475.0M195.0,476.0L185.0,471.6M200.0,466.0L213.2,470.2M200.0,466.0L200.0,489.0M200.0,466.0L189.0,474.0M190.0,480.0L182.6,484.1M190.0,480.0L188.0,466.0M190.0,480.0L195.0,476.0M205.0,475.0L192.1,485.3M205.0,475.0L182.6,484.1M205.0,475.0L189.7,459.0M198.0,484.0L200.0,489.0M198.0,484.0L197.0,471.0M198.0,484.0L186.0,476.0M188.0,466.0L192.0,478.0M188.0,466.0L200.0,466.0M188.0,466.0L192.1,485.3M193.0,482.0L196.0,470.0M193.0,482.0L206.0,484.1M193.0,482.0L215.0,476.0M200.0,489.0L198.0,484.0M207.0,480.0L197.0,471.0M207.0,480.0L202.0,476.0M207.0,480.0L189.0,474.0M189.0,474.0L196.9,488.9M189.0,474.0L196.0,470.0M189.0,474.0L204.1,454.2M197.0,471.0L200.0,466.0M197.0,471.0L199.3,460.2M197.0,471.0L185.0,471.6M203.0,484.0L207.7,461.4M203.0,484.0L206.0,484.1M203.0,484.0L212.0,478.8M210.0,486.0L206.0,484.1M210.0,486.0L183.8,478.1M186.0,486.0L192.1,485.3M70.1,415.0L78.0,426.0M70.1,415.0L77.4,426.6M56.1,423.2L58.2,429.5M56.1,423.2L69.2,432.0M40.3,428.5L56.1,423.2M40.3,428.5L69.2,432.0M58.2,429.5L69.2,432.0M78.0,426.0L87.7,430.4M78.0,426.0L89.0,440.0M69.2,432.0L87.7,430.4M108.3,434.2L100.6,434.2M108.3,434.2L99.0,445.7M77.4,426.6L87.7,430.4M69.3,455.7L76.5,450.9M69.3,455.7L78.4,458.9M78.4,458.9L84.5,455.0M78.4,458.9L90.9,455.3M91.1,452.3L93.0,443.0M91.1,452.3L90.9,455.3M91.1,452.3L89.0,440.0M87.0,447.0L90.4,451.2M87.0,447.0L88.6,445.0M87.0,447.0L81.9,459.1M95.0,447.0L90.4,451.2M95.0,447.0L94.9,454.8M95.0,447.0L89.0,440.0M99.0,456.0L95.4,455.9M99.0,456.0L84.5,455.0M99.0,456.0L97.0,440.0M95.8,461.4L95.4,455.9M95.8,461.4L90.9,455.3M91.0,458.0L97.5,448.4M91.0,458.0L91.3,454.5M91.0,458.0L81.9,459.1M84.5,455.0L97.0,440.0M84.5,455.0L81.9,459.1M84.5,455.0L85.4,453.9M107.2,442.8L101.2,447.5M108.2,433.7L100.6,434.2M108.2,433.7L107.2,442.8M107.8,452.3L101.2,447.5M107.8,452.3L99.0,456.0M123.7,450.0L107.8,452.3M123.7,450.0L108.3,434.2M86.7,466.5L81.9,459.1M93.0,443.0L85.4,453.9M93.0,443.0L94.9,454.8M93.0,443.0L97.0,440.0M89.0,440.0L87.0,447.0M89.0,440.0L101.2,447.5M89.0,440.0L93.0,443.0M97.0,440.0L93.0,443.0M100.0,448.0L81.9,459.1M100.0,448.0L99.0,445.7M100.0,448.0L95.4,455.9M82.0,446.0L93.0,443.0M82.0,446.0L88.6,445.0M82.0,446.0L95.1,453.0M123.8,449.7L107.8,452.3M132.6,467.2L123.7,450.0M132.6,467.2L107.8,452.3M99.0,445.7L100.0,448.0M99.0,445.7L95.8,461.4M99.0,445.7L89.0,440.0M85.4,453.9L94.9,454.8M85.4,453.9L95.8,461.4M85.4,453.9L97.5,448.4M95.1,453.0L90.4,451.2M95.1,453.0L89.0,440.0M95.1,453.0L94.9,454.8M95.4,455.9L91.3,454.5M95.4,455.9L87.0,447.0M95.4,455.9L95.8,461.4M81.9,459.1L84.5,455.0M94.9,454.8L91.0,458.0M94.9,454.8L91.1,452.3M94.9,454.8L84.5,455.0M91.3,454.5L95.8,461.4M91.3,454.5L95.0,447.0M91.3,454.5L82.0,446.0M90.9,455.3L89.0,440.0M90.9,455.3L90.4,451.2M90.9,455.3L88.6,445.0M90.4,451.2L81.9,459.1M90.4,451.2L99.0,456.0M90.4,451.2L95.4,455.9M97.5,448.4L88.6,445.0M97.5,448.4L95.1,453.0M97.5,448.4L95.0,447.0M101.2,447.5L91.3,454.5M101.2,447.5L94.9,454.8M101.2,447.5L81.9,459.1M88.6,445.0L97.0,440.0M88.6,445.0L91.1,452.3M88.6,445.0L84.5,455.0M85.0,421.0L87.7,430.4M85.0,421.0L95.5,435.2M97.2,421.9L87.7,430.4M87.7,430.4L95.5,435.2M87.7,430.4L89.0,440.0M95.5,435.2L97.0,440.0M95.5,435.2L95.0,447.0M100.6,434.2L97.0,440.0M100.6,434.2L89.0,440.0M76.5,450.9L82.0,446.0M76.5,450.9L88.6,445.0M84.0,377.0L101.1,352.4M90.0,392.0L119.7,319.5M84.0,377.0L119.8,353.5M84.0,377.0L116.8,367.0M76.0,392.0L108.0,340.0M71.3,377.4L116.8,367.0M68.2,383.2L116.0,338.0M68.2,383.2L93.9,306.2M71.3,377.4L101.8,342.2M80.0,396.0L105.0,319.9M89.0,389.0L99.0,456.0M68.2,383.2L88.6,445.0M72.0,378.0L95.5,435.2M88.0,384.0L91.3,454.5M76.0,392.0L89.0,440.0M71.3,377.4L81.9,459.1M90.0,392.0L97.0,440.0M9.6,395.7L9.6,402.2M7.9,416.2L14.9,416.2M10.2,429.9L16.6,430.4M9.5,443.7L14.2,449.0M14.2,449.0L20.5,445.6M17.1,464.0L20.5,469.7M30.0,476.9L26.0,482.3M62.5,522.9L68.2,526.6M72.7,513.3L79.4,516.3M80.4,530.7L83.5,536.4M111.5,515.3L117.2,519.8M129.1,544.6L131.5,550.1M149.5,548.4L153.6,542.9M118.2,537.2L113.1,542.9M113.1,542.9L106.6,545.0M118.2,537.2L122.9,531.7M137.3,533.1L141.3,538.4M52.2,508.3L57.9,512.6M47.1,500.7L52.2,508.3M95.8,505.7L94.3,512.7M94.3,512.7L94.3,520.4M94.3,520.4L97.2,528.6M97.2,528.6L105.0,528.6M97.2,528.6L95.4,536.2M44.0,480.4L44.0,490.2M44.0,490.2L40.8,494.0M44.0,490.2L48.4,492.1M40.8,494.0L41.8,497.8M48.4,492.1L47.4,496.9M41.8,497.8L47.1,500.7M47.4,496.9L47.1,500.7M44.2,442.4L37.0,452.6M37.0,452.6L29.0,456.1M37.0,452.6L37.0,462.1M44.2,442.4L57.9,429.5M57.9,429.5L56.0,423.4M40.3,428.5L56.0,423.4M56.1,423.2L66.0,410.0M86.7,466.5L78.2,482.6M78.2,482.6L69.3,488.3M78.2,482.6L77.8,494.0M77.8,494.0L76.5,502.0M91.1,452.3L86.7,466.5M128.7,472.2L122.4,479.8M91.1,452.3L128.7,472.2M100.6,434.2L128.7,472.2M95.5,435.2L127.2,495.0M97.2,421.9L123.8,449.7M123.8,449.7L152.7,459.0M100.6,434.2L132.6,467.2M132.6,467.2L140.0,484.8M108.2,433.7L140.0,470.0M97.2,421.9L120.3,377.9M85.0,421.0L88.5,399.2M97.2,421.9L100.7,390.4M95.5,435.2L96.0,390.0M100.6,434.2L108.3,434.2M123.7,450.0L152.7,459.0M107.8,452.3L123.7,450.0M148.8,305.8L163.3,295.3M172.3,349.8L173.2,357.4M184.3,370.2L200.0,383.0M200.0,383.0L208.2,390.6M174.2,339.3L200.6,330.8M200.6,330.8L217.6,323.1M217.6,323.1L227.3,318.0M200.6,330.8L217.1,347.8M217.1,347.8L229.4,342.2M217.1,347.8L215.4,371.5M215.4,371.5L240.0,408.5M187.3,344.8L215.4,371.5M187.3,344.8L189.1,359.3M189.1,359.3L195.5,357.5M195.5,357.5L204.4,357.5M184.0,370.3L208.2,390.6M208.2,390.6L217.1,392.4M208.2,390.6L214.6,402.1M214.6,402.1L219.7,411.0M219.7,411.0L221.7,422.5M221.7,422.5L224.4,431.5M215.4,371.5L217.6,380.4M241.8,321.8L244.6,328.2M251.5,338.4L256.6,341.0M256.1,359.3L249.0,376.6M242.3,422.4L240.0,408.5M242.3,422.4L254.1,412.3M224.4,431.5L237.0,402.1M224.4,431.5L241.3,394.5M242.3,422.4L263.0,413.6M242.3,422.4L271.4,391.1M242.3,422.4L256.1,425.0M242.3,422.4L266.0,427.6M242.3,422.4L249.0,428.9M232.3,440.3L250.3,440.3M232.3,440.3L254.1,444.1M232.3,440.3L246.4,445.4M224.4,431.5L232.3,440.3M224.4,431.5L226.3,448.9M224.4,431.5L235.7,416.6M232.3,458.3L257.8,461.4M226.1,471.4L246.6,468.5M226.1,471.4L253.1,478.8M226.8,497.2L248.8,497.2M215.4,371.5L240.0,386.8M189.5,359.3L240.0,386.8M58.7,331.8L75.0,353.1M85.8,331.8L92.0,345.0M140.0,484.8L132.0,498.0M148.4,496.7L149.1,504.4M149.1,504.4L143.6,516.8M175.5,536.4L167.9,542.5M185.1,524.9L195.0,505.0M191.8,522.9L199.0,500.0M199.3,534.3L201.7,520.4M191.6,522.8L189.7,505.6M185.0,524.7L179.7,505.6M166.3,448.2L180.2,458.3M201.2,435.6L199.3,460.2M208.1,436.8L199.3,460.2M220.8,422.4L224.4,431.5M160.0,352.0L187.3,344.8M224.4,431.5L243.0,392.0M224.4,431.5L246.0,388.0M224.4,431.5L241.0,397.0M224.4,431.5L250.0,385.0M224.4,431.5L259.2,401.3M224.4,431.5L264.3,404.6M224.4,431.5L271.4,391.1M242.3,422.4L259.2,401.3M242.3,422.4L264.3,404.6M232.3,440.3L256.1,425.0M232.3,440.3L266.0,427.6M232.3,440.3L249.0,428.9M166.0,345.0L184.0,370.3M159.8,362.6L184.0,370.3M172.3,349.8L200.6,330.8M161.4,334.9L187.3,344.8" fill="none" stroke="#ABABAB" stroke-width="0.9"/>
<circle cx="123.10" cy="284.20" r="2.2" fill="#ABABAB" stroke="none" stroke-width="1" />
<circle cx="132.70" cy="290.50" r="2.2" fill="#ABABAB" stroke="none" stroke-width="1" />
<circle cx="144.60" cy="295.70" r="2.2" fill="#ABABAB" stroke="none" stroke-width="1" />
<circle cx="163.30" cy="295.30" r="2.2" fill="#ABABAB" stroke="none" stroke-width="1" />
<circle cx="168.40" cy="299.10" r="2.2" fill="#ABABAB" stroke="none" stroke-width="1" />
<circle cx="182.80" cy="300.10" r="2.2" fill="#ABABAB" stroke="none" stroke-width="1" />
<circle cx="187.00" cy="304.90" r="2.2" fill="#ABABAB" stroke="none" stroke-width="1" />
<circle cx="196.20" cy="314.40" r="2.2" fill="#ABABAB" stroke="none" stroke-width="1" />
<circle cx="176.10" cy="315.90" r="2.2" fill="#ABABAB" stroke="none" stroke-width="1" />
<circle cx="185.70" cy="325.90" r="2.2" fill="#ABABAB" stroke="none" stroke-width="1" />
<circle cx="199.00" cy="331.20" r="2.2" fill="#ABABAB" stroke="none" stroke-width="1" />
<circle cx="179.00" cy="342.70" r="2.2" fill="#ABABAB" stroke="none" stroke-width="1" />
<circle cx="187.60" cy="345.00" r="2.2" fill="#ABABAB" stroke="none" stroke-width="1" />
<circle cx="195.20" cy="357.40" r="2.2" fill="#ABABAB" stroke="none" stroke-width="1" />
<circle cx="189.50" cy="359.30" r="2.2" fill="#ABABAB" stroke="none" stroke-width="1" />
<circle cx="184.30" cy="370.20" r="2.2" fill="#ABABAB" stroke="none" stroke-width="1" />
<circle cx="173.20" cy="357.40" r="2.2" fill="#ABABAB" stroke="none" stroke-width="1" />
<circle cx="93.90" cy="306.20" r="2.2" fill="#ABABAB" stroke="none" stroke-width="1" />
<circle cx="99.20" cy="303.30" r="2.2" fill="#ABABAB" stroke="none" stroke-width="1" />
<circle cx="105.00" cy="301.40" r="2.2" fill="#ABABAB" stroke="none" stroke-width="1" />
<circle cx="95.80" cy="312.90" r="2.2" fill="#ABABAB" stroke="none" stroke-width="1" />
<circle cx="86.20" cy="331.20" r="2.2" fill="#ABABAB" stroke="none" stroke-width="1" />
<circle cx="76.70" cy="343.10" r="2.2" fill="#ABABAB" stroke="none" stroke-width="1" />
<circle cx="74.80" cy="353.60" r="2.2" fill="#ABABAB" stroke="none" stroke-width="1" />
<circle cx="125.80" cy="390.90" r="2.2" fill="#ABABAB" stroke="none" stroke-width="1" />
<circle cx="129.30" cy="379.40" r="2.2" fill="#ABABAB" stroke="none" stroke-width="1" />
<circle cx="125.40" cy="303.30" r="2.2" fill="#ABABAB" stroke="none" stroke-width="1" />
<circle cx="130.80" cy="312.50" r="2.2" fill="#ABABAB" stroke="none" stroke-width="1" />
<circle cx="120.70" cy="312.90" r="2.2" fill="#ABABAB" stroke="none" stroke-width="1" />
<circle cx="139.20" cy="304.90" r="2.2" fill="#ABABAB" stroke="none" stroke-width="1" />
<circle cx="137.90" cy="319.20" r="2.2" fill="#ABABAB" stroke="none" stroke-width="1" />
<circle cx="115.90" cy="321.10" r="2.2" fill="#ABABAB" stroke="none" stroke-width="1" />
<circle cx="152.20" cy="316.30" r="2.2" fill="#ABABAB" stroke="none" stroke-width="1" />
<circle cx="167.90" cy="315.40" r="2.2" fill="#ABABAB" stroke="none" stroke-width="1" />
<circle cx="177.10" cy="323.00" r="2.2" fill="#ABABAB" stroke="none" stroke-width="1" />
<circle cx="174.20" cy="339.30" r="2.2" fill="#ABABAB" stroke="none" stroke-width="1" />
<circle cx="118.00" cy="330.00" r="2.2" fill="#ABABAB" stroke="none" stroke-width="1" />
<circle cx="126.00" cy="326.00" r="2.2" fill="#ABABAB" stroke="none" stroke-width="1" />
<circle cx="134.00" cy="322.00" r="2.2" fill="#ABABAB" stroke="none" stroke-width="1" />
<circle cx="142.00" cy="318.00" r="2.2" fill="#ABABAB" stroke="none" stroke-width="1" />
<circle cx="108.00" cy="340.00" r="2.2" fill="#ABABAB" stroke="none" stroke-width="1" />
<circle cx="116.00" cy="338.00" r="2.2" fill="#ABABAB" stroke="none" stroke-width="1" />
<circle cx="124.00" cy="352.00" r="2.2" fill="#ABABAB" stroke="none" stroke-width="1" />
<circle cx="130.00" cy="350.00" r="2.2" fill="#ABABAB" stroke="none" stroke-width="1" />
<circle cx="112.00" cy="356.00" r="2.2" fill="#ABABAB" stroke="none" stroke-width="1" />
<circle cx="106.00" cy="350.00" r="2.2" fill="#ABABAB" stroke="none" stroke-width="1" />
<circle cx="100.00" cy="346.00" r="2.2" fill="#ABABAB" stroke="none" stroke-width="1" />
<circle cx="140.00" cy="350.00" r="2.2" fill="#ABABAB" stroke="none" stroke-width="1" />
<circle cx="160.00" cy="352.00" r="2.2" fill="#ABABAB" stroke="none" stroke-width="1" />
<circle cx="166.00" cy="345.00" r="2.2" fill="#ABABAB" stroke="none" stroke-width="1" />
<circle cx="166.00" cy="330.00" r="2.2" fill="#ABABAB" stroke="none" stroke-width="1" />
<circle cx="158.00" cy="320.00" r="2.2" fill="#ABABAB" stroke="none" stroke-width="1" />
<circle cx="128.00" cy="364.00" r="2.2" fill="#ABABAB" stroke="none" stroke-width="1" />
<circle cx="140.00" cy="366.00" r="2.2" fill="#ABABAB" stroke="none" stroke-width="1" />
<circle cx="152.00" cy="356.00" r="2.2" fill="#ABABAB" stroke="none" stroke-width="1" />
<circle cx="120.00" cy="342.00" r="2.2" fill="#ABABAB" stroke="none" stroke-width="1" />
<circle cx="96.00" cy="352.00" r="2.2" fill="#ABABAB" stroke="none" stroke-width="1" />
<circle cx="104.00" cy="360.00" r="2.2" fill="#ABABAB" stroke="none" stroke-width="1" />
<circle cx="200.60" cy="330.80" r="2.2" fill="#ABABAB" stroke="none" stroke-width="1" />
<circle cx="217.60" cy="323.10" r="2.2" fill="#ABABAB" stroke="none" stroke-width="1" />
<circle cx="227.30" cy="318.00" r="2.2" fill="#ABABAB" stroke="none" stroke-width="1" />
<circle cx="241.80" cy="321.80" r="2.2" fill="#ABABAB" stroke="none" stroke-width="1" />
<circle cx="244.60" cy="328.20" r="2.2" fill="#ABABAB" stroke="none" stroke-width="1" />
<circle cx="251.50" cy="338.40" r="2.2" fill="#ABABAB" stroke="none" stroke-width="1" />
<circle cx="256.60" cy="341.00" r="2.2" fill="#ABABAB" stroke="none" stroke-width="1" />
<circle cx="217.10" cy="347.80" r="2.2" fill="#ABABAB" stroke="none" stroke-width="1" />
<circle cx="229.40" cy="342.20" r="2.2" fill="#ABABAB" stroke="none" stroke-width="1" />
<circle cx="187.30" cy="344.80" r="2.2" fill="#ABABAB" stroke="none" stroke-width="1" />
<circle cx="189.10" cy="359.30" r="2.2" fill="#ABABAB" stroke="none" stroke-width="1" />
<circle cx="195.50" cy="357.50" r="2.2" fill="#ABABAB" stroke="none" stroke-width="1" />
<circle cx="204.40" cy="357.50" r="2.2" fill="#ABABAB" stroke="none" stroke-width="1" />
<circle cx="215.40" cy="371.50" r="2.2" fill="#ABABAB" stroke="none" stroke-width="1" />
<circle cx="184.00" cy="370.30" r="2.2" fill="#ABABAB" stroke="none" stroke-width="1" />
<circle cx="256.10" cy="359.30" r="2.2" fill="#ABABAB" stroke="none" stroke-width="1" />
<circle cx="217.60" cy="380.40" r="2.2" fill="#ABABAB" stroke="none" stroke-width="1" />
<circle cx="208.20" cy="390.60" r="2.2" fill="#ABABAB" stroke="none" stroke-width="1" />
<circle cx="217.10" cy="392.40" r="2.2" fill="#ABABAB" stroke="none" stroke-width="1" />
<circle cx="214.60" cy="402.10" r="2.2" fill="#ABABAB" stroke="none" stroke-width="1" />
<circle cx="219.70" cy="411.00" r="2.2" fill="#ABABAB" stroke="none" stroke-width="1" />
<circle cx="221.70" cy="422.50" r="2.2" fill="#ABABAB" stroke="none" stroke-width="1" />
<circle cx="249.00" cy="376.60" r="2.2" fill="#ABABAB" stroke="none" stroke-width="1" />
<circle cx="251.50" cy="374.00" r="2.2" fill="#ABABAB" stroke="none" stroke-width="1" />
<circle cx="246.50" cy="378.00" r="2.2" fill="#ABABAB" stroke="none" stroke-width="1" />
<circle cx="254.00" cy="379.00" r="2.2" fill="#ABABAB" stroke="none" stroke-width="1" />
<circle cx="244.00" cy="381.00" r="2.2" fill="#ABABAB" stroke="none" stroke-width="1" />
<circle cx="250.00" cy="380.00" r="2.2" fill="#ABABAB" stroke="none" stroke-width="1" />
<circle cx="252.00" cy="383.00" r="2.2" fill="#ABABAB" stroke="none" stroke-width="1" />
<circle cx="247.00" cy="384.00" r="2.2" fill="#ABABAB" stroke="none" stroke-width="1" />
<circle cx="240.00" cy="386.80" r="2.2" fill="#ABABAB" stroke="none" stroke-width="1" />
<circle cx="241.30" cy="394.50" r="2.2" fill="#ABABAB" stroke="none" stroke-width="1" />
<circle cx="271.40" cy="391.10" r="2.2" fill="#ABABAB" stroke="none" stroke-width="1" />
<circle cx="259.20" cy="401.30" r="2.2" fill="#ABABAB" stroke="none" stroke-width="1" />
<circle cx="264.30" cy="404.60" r="2.2" fill="#ABABAB" stroke="none" stroke-width="1" />
<circle cx="263.00" cy="413.60" r="2.2" fill="#ABABAB" stroke="none" stroke-width="1" />
<circle cx="254.10" cy="412.30" r="2.2" fill="#ABABAB" stroke="none" stroke-width="1" />
<circle cx="240.00" cy="408.50" r="2.2" fill="#ABABAB" stroke="none" stroke-width="1" />
<circle cx="237.00" cy="402.10" r="2.2" fill="#ABABAB" stroke="none" stroke-width="1" />
<circle cx="235.70" cy="416.60" r="2.2" fill="#ABABAB" stroke="none" stroke-width="1" />
<circle cx="256.10" cy="425.00" r="2.2" fill="#ABABAB" stroke="none" stroke-width="1" />
<circle cx="266.00" cy="427.60" r="2.2" fill="#ABABAB" stroke="none" stroke-width="1" />
<circle cx="249.00" cy="428.90" r="2.2" fill="#ABABAB" stroke="none" stroke-width="1" />
<circle cx="243.90" cy="435.20" r="2.2" fill="#ABABAB" stroke="none" stroke-width="1" />
<circle cx="250.30" cy="440.30" r="2.2" fill="#ABABAB" stroke="none" stroke-width="1" />
<circle cx="254.10" cy="444.10" r="2.2" fill="#ABABAB" stroke="none" stroke-width="1" />
<circle cx="246.40" cy="445.40" r="2.2" fill="#ABABAB" stroke="none" stroke-width="1" />
<circle cx="257.80" cy="461.40" r="2.2" fill="#ABABAB" stroke="none" stroke-width="1" />
<circle cx="246.60" cy="468.50" r="2.2" fill="#ABABAB" stroke="none" stroke-width="1" />
<circle cx="253.10" cy="478.80" r="2.2" fill="#ABABAB" stroke="none" stroke-width="1" />
<circle cx="248.80" cy="497.20" r="2.2" fill="#ABABAB" stroke="none" stroke-width="1" />
<circle cx="258.00" cy="392.00" r="2.2" fill="#ABABAB" stroke="none" stroke-width="1" />
<circle cx="262.00" cy="396.00" r="2.2" fill="#ABABAB" stroke="none" stroke-width="1" />
<circle cx="245.00" cy="390.00" r="2.2" fill="#ABABAB" stroke="none" stroke-width="1" />
<circle cx="255.00" cy="387.00" r="2.2" fill="#ABABAB" stroke="none" stroke-width="1" />
<circle cx="248.00" cy="398.00" r="2.2" fill="#ABABAB" stroke="none" stroke-width="1" />
<circle cx="252.00" cy="405.00" r="2.2" fill="#ABABAB" stroke="none" stroke-width="1" />
<circle cx="58.70" cy="331.80" r="2.2" fill="#ABABAB" stroke="none" stroke-width="1" />
<circle cx="85.80" cy="331.80" r="2.2" fill="#ABABAB" stroke="none" stroke-width="1" />
<circle cx="35.60" cy="340.50" r="2.2" fill="#ABABAB" stroke="none" stroke-width="1" />
<circle cx="50.80" cy="343.70" r="2.2" fill="#ABABAB" stroke="none" stroke-width="1" />
<circle cx="76.70" cy="343.10" r="2.2" fill="#ABABAB" stroke="none" stroke-width="1" />
<circle cx="75.00" cy="353.10" r="2.2" fill="#ABABAB" stroke="none" stroke-width="1" />
<circle cx="62.20" cy="361.20" r="2.2" fill="#ABABAB" stroke="none" stroke-width="1" />
<circle cx="40.80" cy="365.40" r="2.2" fill="#ABABAB" stroke="none" stroke-width="1" />
<circle cx="49.10" cy="364.20" r="2.2" fill="#ABABAB" stroke="none" stroke-width="1" />
<circle cx="31.50" cy="375.90" r="2.2" fill="#ABABAB" stroke="none" stroke-width="1" />
<circle cx="51.70" cy="374.70" r="2.2" fill="#ABABAB" stroke="none" stroke-width="1" />
<circle cx="56.90" cy="372.90" r="2.2" fill="#ABABAB" stroke="none" stroke-width="1" />
<circle cx="52.20" cy="380.80" r="2.2" fill="#ABABAB" stroke="none" stroke-width="1" />
<circle cx="32.90" cy="386.40" r="2.2" fill="#ABABAB" stroke="none" stroke-width="1" />
<circle cx="54.30" cy="387.50" r="2.2" fill="#ABABAB" stroke="none" stroke-width="1" />
<circle cx="62.70" cy="385.70" r="2.2" fill="#ABABAB" stroke="none" stroke-width="1" />
<circle cx="58.70" cy="393.90" r="2.2" fill="#ABABAB" stroke="none" stroke-width="1" />
<circle cx="9.60" cy="395.70" r="2.2" fill="#ABABAB" stroke="none" stroke-width="1" />
<circle cx="9.60" cy="402.20" r="2.2" fill="#ABABAB" stroke="none" stroke-width="1" />
<circle cx="51.70" cy="406.60" r="2.2" fill="#ABABAB" stroke="none" stroke-width="1" />
<circle cx="61.30" cy="405.70" r="2.2" fill="#ABABAB" stroke="none" stroke-width="1" />
<circle cx="64.80" cy="410.20" r="2.2" fill="#ABABAB" stroke="none" stroke-width="1" />
<circle cx="70.10" cy="415.00" r="2.2" fill="#ABABAB" stroke="none" stroke-width="1" />
<circle cx="7.90" cy="416.20" r="2.2" fill="#ABABAB" stroke="none" stroke-width="1" />
<circle cx="14.90" cy="416.20" r="2.2" fill="#ABABAB" stroke="none" stroke-width="1" />
<circle cx="56.10" cy="423.20" r="2.2" fill="#ABABAB" stroke="none" stroke-width="1" />
<circle cx="40.30" cy="428.50" r="2.2" fill="#ABABAB" stroke="none" stroke-width="1" />
<circle cx="58.20" cy="429.50" r="2.2" fill="#ABABAB" stroke="none" stroke-width="1" />
<circle cx="78.00" cy="426.00" r="2.2" fill="#ABABAB" stroke="none" stroke-width="1" />
<circle cx="69.20" cy="432.00" r="2.2" fill="#ABABAB" stroke="none" stroke-width="1" />
<circle cx="10.20" cy="429.90" r="2.2" fill="#ABABAB" stroke="none" stroke-width="1" />
<circle cx="16.60" cy="430.40" r="2.2" fill="#ABABAB" stroke="none" stroke-width="1" />
<circle cx="108.30" cy="434.20" r="2.2" fill="#ABABAB" stroke="none" stroke-width="1" />
<circle cx="100.70" cy="390.40" r="2.2" fill="#ABABAB" stroke="none" stroke-width="1" />
<circle cx="88.50" cy="399.20" r="2.2" fill="#ABABAB" stroke="none" stroke-width="1" />
<circle cx="72.00" cy="378.00" r="2.2" fill="#ABABAB" stroke="none" stroke-width="1" />
<circle cx="78.00" cy="381.00" r="2.2" fill="#ABABAB" stroke="none" stroke-width="1" />
<circle cx="84.00" cy="377.00" r="2.2" fill="#ABABAB" stroke="none" stroke-width="1" />
<circle cx="70.00" cy="388.00" r="2.2" fill="#ABABAB" stroke="none" stroke-width="1" />
<circle cx="76.00" cy="392.00" r="2.2" fill="#ABABAB" stroke="none" stroke-width="1" />
<circle cx="82.00" cy="388.00" r="2.2" fill="#ABABAB" stroke="none" stroke-width="1" />
<circle cx="88.00" cy="384.00" r="2.2" fill="#ABABAB" stroke="none" stroke-width="1" />
<circle cx="80.00" cy="396.00" r="2.2" fill="#ABABAB" stroke="none" stroke-width="1" />
<circle cx="74.00" cy="400.00" r="2.2" fill="#ABABAB" stroke="none" stroke-width="1" />
<circle cx="66.00" cy="395.00" r="2.2" fill="#ABABAB" stroke="none" stroke-width="1" />
<circle cx="90.00" cy="392.00" r="2.2" fill="#ABABAB" stroke="none" stroke-width="1" />
<circle cx="85.00" cy="402.00" r="2.2" fill="#ABABAB" stroke="none" stroke-width="1" />
<circle cx="92.00" cy="380.00" r="2.2" fill="#ABABAB" stroke="none" stroke-width="1" />
<circle cx="77.40" cy="426.60" r="2.2" fill="#ABABAB" stroke="none" stroke-width="1" />
<circle cx="9.50" cy="443.70" r="2.2" fill="#ABABAB" stroke="none" stroke-width="1" />
<circle cx="14.20" cy="449.00" r="2.2" fill="#ABABAB" stroke="none" stroke-width="1" />
<circle cx="20.50" cy="445.60" r="2.2" fill="#ABABAB" stroke="none" stroke-width="1" />
<circle cx="44.20" cy="442.40" r="2.2" fill="#ABABAB" stroke="none" stroke-width="1" />
<circle cx="37.00" cy="452.60" r="2.2" fill="#ABABAB" stroke="none" stroke-width="1" />
<circle cx="29.00" cy="456.10" r="2.2" fill="#ABABAB" stroke="none" stroke-width="1" />
<circle cx="37.00" cy="462.10" r="2.2" fill="#ABABAB" stroke="none" stroke-width="1" />
<circle cx="17.10" cy="464.00" r="2.2" fill="#ABABAB" stroke="none" stroke-width="1" />
<circle cx="20.50" cy="469.70" r="2.2" fill="#ABABAB" stroke="none" stroke-width="1" />
<circle cx="30.00" cy="476.90" r="2.2" fill="#ABABAB" stroke="none" stroke-width="1" />
<circle cx="26.00" cy="482.30" r="2.2" fill="#ABABAB" stroke="none" stroke-width="1" />
<circle cx="44.00" cy="480.40" r="2.2" fill="#ABABAB" stroke="none" stroke-width="1" />
<circle cx="44.00" cy="490.20" r="2.2" fill="#ABABAB" stroke="none" stroke-width="1" />
<circle cx="40.80" cy="494.00" r="2.2" fill="#ABABAB" stroke="none" stroke-width="1" />
<circle cx="48.40" cy="492.10" r="2.2" fill="#ABABAB" stroke="none" stroke-width="1" />
<circle cx="41.80" cy="497.80" r="2.2" fill="#ABABAB" stroke="none" stroke-width="1" />
<circle cx="47.40" cy="496.90" r="2.2" fill="#ABABAB" stroke="none" stroke-width="1" />
<circle cx="47.10" cy="500.70" r="2.2" fill="#ABABAB" stroke="none" stroke-width="1" />
<circle cx="69.30" cy="455.70" r="2.2" fill="#ABABAB" stroke="none" stroke-width="1" />
<circle cx="78.40" cy="458.90" r="2.2" fill="#ABABAB" stroke="none" stroke-width="1" />
<circle cx="91.10" cy="452.30" r="2.2" fill="#ABABAB" stroke="none" stroke-width="1" />
<circle cx="87.00" cy="447.00" r="2.2" fill="#ABABAB" stroke="none" stroke-width="1" />
<circle cx="95.00" cy="447.00" r="2.2" fill="#ABABAB" stroke="none" stroke-width="1" />
<circle cx="99.00" cy="456.00" r="2.2" fill="#ABABAB" stroke="none" stroke-width="1" />
<circle cx="95.80" cy="461.40" r="2.2" fill="#ABABAB" stroke="none" stroke-width="1" />
<circle cx="91.00" cy="458.00" r="2.2" fill="#ABABAB" stroke="none" stroke-width="1" />
<circle cx="84.50" cy="455.00" r="2.2" fill="#ABABAB" stroke="none" stroke-width="1" />
<circle cx="107.20" cy="442.80" r="2.2" fill="#ABABAB" stroke="none" stroke-width="1" />
<circle cx="108.20" cy="433.70" r="2.2" fill="#ABABAB" stroke="none" stroke-width="1" />
<circle cx="107.80" cy="452.30" r="2.2" fill="#ABABAB" stroke="none" stroke-width="1" />
<circle cx="123.70" cy="450.00" r="2.2" fill="#ABABAB" stroke="none" stroke-width="1" />
<circle cx="86.70" cy="466.50" r="2.2" fill="#ABABAB" stroke="none" stroke-width="1" />
<circle cx="78.20" cy="482.60" r="2.2" fill="#ABABAB" stroke="none" stroke-width="1" />
<circle cx="69.30" cy="488.30" r="2.2" fill="#ABABAB" stroke="none" stroke-width="1" />
<circle cx="77.80" cy="494.00" r="2.2" fill="#ABABAB" stroke="none" stroke-width="1" />
<circle cx="76.50" cy="502.00" r="2.2" fill="#ABABAB" stroke="none" stroke-width="1" />
<circle cx="128.70" cy="472.20" r="2.2" fill="#ABABAB" stroke="none" stroke-width="1" />
<circle cx="122.40" cy="479.80" r="2.2" fill="#ABABAB" stroke="none" stroke-width="1" />
<circle cx="127.20" cy="495.00" r="2.2" fill="#ABABAB" stroke="none" stroke-width="1" />
<circle cx="93.00" cy="443.00" r="2.2" fill="#ABABAB" stroke="none" stroke-width="1" />
<circle cx="89.00" cy="440.00" r="2.2" fill="#ABABAB" stroke="none" stroke-width="1" />
<circle cx="97.00" cy="440.00" r="2.2" fill="#ABABAB" stroke="none" stroke-width="1" />
<circle cx="100.00" cy="448.00" r="2.2" fill="#ABABAB" stroke="none" stroke-width="1" />
<circle cx="82.00" cy="446.00" r="2.2" fill="#ABABAB" stroke="none" stroke-width="1" />
<circle cx="72.70" cy="513.30" r="2.2" fill="#ABABAB" stroke="none" stroke-width="1" />
<circle cx="79.40" cy="516.30" r="2.2" fill="#ABABAB" stroke="none" stroke-width="1" />
<circle cx="62.50" cy="522.90" r="2.2" fill="#ABABAB" stroke="none" stroke-width="1" />
<circle cx="68.20" cy="526.60" r="2.2" fill="#ABABAB" stroke="none" stroke-width="1" />
<circle cx="95.80" cy="505.70" r="2.2" fill="#ABABAB" stroke="none" stroke-width="1" />
<circle cx="94.30" cy="512.70" r="2.2" fill="#ABABAB" stroke="none" stroke-width="1" />
<circle cx="94.30" cy="520.40" r="2.2" fill="#ABABAB" stroke="none" stroke-width="1" />
<circle cx="97.20" cy="528.60" r="2.2" fill="#ABABAB" stroke="none" stroke-width="1" />
<circle cx="105.00" cy="528.60" r="2.2" fill="#ABABAB" stroke="none" stroke-width="1" />
<circle cx="95.40" cy="536.20" r="2.2" fill="#ABABAB" stroke="none" stroke-width="1" />
<circle cx="80.40" cy="530.70" r="2.2" fill="#ABABAB" stroke="none" stroke-width="1" />
<circle cx="83.50" cy="536.40" r="2.2" fill="#ABABAB" stroke="none" stroke-width="1" />
<circle cx="111.50" cy="515.30" r="2.2" fill="#ABABAB" stroke="none" stroke-width="1" />
<circle cx="117.20" cy="519.80" r="2.2" fill="#ABABAB" stroke="none" stroke-width="1" />
<circle cx="118.20" cy="537.20" r="2.2" fill="#ABABAB" stroke="none" stroke-width="1" />
<circle cx="113.10" cy="542.90" r="2.2" fill="#ABABAB" stroke="none" stroke-width="1" />
<circle cx="106.60" cy="545.00" r="2.2" fill="#ABABAB" stroke="none" stroke-width="1" />
<circle cx="141.30" cy="538.40" r="2.2" fill="#ABABAB" stroke="none" stroke-width="1" />
<circle cx="129.10" cy="544.60" r="2.2" fill="#ABABAB" stroke="none" stroke-width="1" />
<circle cx="131.50" cy="550.10" r="2.2" fill="#ABABAB" stroke="none" stroke-width="1" />
<circle cx="149.50" cy="548.40" r="2.2" fill="#ABABAB" stroke="none" stroke-width="1" />
<circle cx="153.60" cy="542.90" r="2.2" fill="#ABABAB" stroke="none" stroke-width="1" />
<circle cx="142.80" cy="516.80" r="2.2" fill="#ABABAB" stroke="none" stroke-width="1" />
<circle cx="149.30" cy="504.10" r="2.2" fill="#ABABAB" stroke="none" stroke-width="1" />
<circle cx="175.50" cy="536.40" r="2.2" fill="#ABABAB" stroke="none" stroke-width="1" />
<circle cx="185.10" cy="524.90" r="2.2" fill="#ABABAB" stroke="none" stroke-width="1" />
<circle cx="191.80" cy="522.90" r="2.2" fill="#ABABAB" stroke="none" stroke-width="1" />
<circle cx="180.20" cy="505.70" r="2.2" fill="#ABABAB" stroke="none" stroke-width="1" />
<circle cx="189.80" cy="505.70" r="2.2" fill="#ABABAB" stroke="none" stroke-width="1" />
<circle cx="123.80" cy="449.70" r="2.2" fill="#ABABAB" stroke="none" stroke-width="1" />
<circle cx="132.60" cy="467.20" r="2.2" fill="#ABABAB" stroke="none" stroke-width="1" />
<circle cx="166.30" cy="448.20" r="2.2" fill="#ABABAB" stroke="none" stroke-width="1" />
<circle cx="183.00" cy="437.50" r="2.2" fill="#ABABAB" stroke="none" stroke-width="1" />
<circle cx="190.20" cy="434.40" r="2.2" fill="#ABABAB" stroke="none" stroke-width="1" />
<circle cx="168.20" cy="485.30" r="2.2" fill="#ABABAB" stroke="none" stroke-width="1" />
<circle cx="171.80" cy="496.50" r="2.2" fill="#ABABAB" stroke="none" stroke-width="1" />
<circle cx="179.70" cy="505.60" r="2.2" fill="#ABABAB" stroke="none" stroke-width="1" />
<circle cx="189.70" cy="505.60" r="2.2" fill="#ABABAB" stroke="none" stroke-width="1" />
<circle cx="199.30" cy="504.40" r="2.2" fill="#ABABAB" stroke="none" stroke-width="1" />
<circle cx="212.40" cy="505.10" r="2.2" fill="#ABABAB" stroke="none" stroke-width="1" />
<circle cx="218.90" cy="502.70" r="2.2" fill="#ABABAB" stroke="none" stroke-width="1" />
<circle cx="201.70" cy="520.40" r="2.2" fill="#ABABAB" stroke="none" stroke-width="1" />
<circle cx="191.60" cy="522.80" r="2.2" fill="#ABABAB" stroke="none" stroke-width="1" />
<circle cx="185.00" cy="524.70" r="2.2" fill="#ABABAB" stroke="none" stroke-width="1" />
<circle cx="174.90" cy="536.20" r="2.2" fill="#ABABAB" stroke="none" stroke-width="1" />
<circle cx="199.30" cy="534.30" r="2.2" fill="#ABABAB" stroke="none" stroke-width="1" />
<circle cx="149.10" cy="504.40" r="2.2" fill="#ABABAB" stroke="none" stroke-width="1" />
<circle cx="143.60" cy="516.80" r="2.2" fill="#ABABAB" stroke="none" stroke-width="1" />
<circle cx="220.80" cy="422.40" r="2.2" fill="#ABABAB" stroke="none" stroke-width="1" />
<circle cx="131.90" cy="498.40" r="2.2" fill="#ABABAB" stroke="none" stroke-width="1" />
<circle cx="196.00" cy="470.00" r="2.2" fill="#ABABAB" stroke="none" stroke-width="1" />
<circle cx="202.00" cy="476.00" r="2.2" fill="#ABABAB" stroke="none" stroke-width="1" />
<circle cx="192.00" cy="478.00" r="2.2" fill="#ABABAB" stroke="none" stroke-width="1" />
<circle cx="208.00" cy="472.00" r="2.2" fill="#ABABAB" stroke="none" stroke-width="1" />
<circle cx="186.00" cy="476.00" r="2.2" fill="#ABABAB" stroke="none" stroke-width="1" />
<circle cx="215.00" cy="476.00" r="2.2" fill="#ABABAB" stroke="none" stroke-width="1" />
<circle cx="220.00" cy="462.00" r="2.2" fill="#ABABAB" stroke="none" stroke-width="1" />
<circle cx="210.00" cy="490.00" r="2.2" fill="#ABABAB" stroke="none" stroke-width="1" />
<circle cx="230.00" cy="476.00" r="2.2" fill="#ABABAB" stroke="none" stroke-width="1" />
<circle cx="236.00" cy="466.00" r="2.2" fill="#ABABAB" stroke="none" stroke-width="1" />
<circle cx="175.00" cy="470.00" r="2.2" fill="#ABABAB" stroke="none" stroke-width="1" />
<circle cx="170.00" cy="462.00" r="2.2" fill="#ABABAB" stroke="none" stroke-width="1" />
<circle cx="216.00" cy="486.00" r="2.2" fill="#ABABAB" stroke="none" stroke-width="1" />
<circle cx="234.00" cy="494.00" r="2.2" fill="#ABABAB" stroke="none" stroke-width="1" />
<circle cx="126.20" cy="330.50" r="2.2" fill="#ABABAB" stroke="none" stroke-width="1" />
<circle cx="103.70" cy="365.20" r="2.2" fill="#ABABAB" stroke="none" stroke-width="1" />
<circle cx="137.10" cy="323.00" r="2.2" fill="#ABABAB" stroke="none" stroke-width="1" />
<circle cx="113.80" cy="337.80" r="2.2" fill="#ABABAB" stroke="none" stroke-width="1" />
<circle cx="116.70" cy="334.50" r="2.2" fill="#ABABAB" stroke="none" stroke-width="1" />
<circle cx="127.10" cy="334.90" r="2.2" fill="#ABABAB" stroke="none" stroke-width="1" />
<circle cx="118.70" cy="351.40" r="2.2" fill="#ABABAB" stroke="none" stroke-width="1" />
<circle cx="117.90" cy="348.10" r="2.2" fill="#ABABAB" stroke="none" stroke-width="1" />
<circle cx="131.80" cy="334.70" r="2.2" fill="#ABABAB" stroke="none" stroke-width="1" />
<circle cx="105.00" cy="319.90" r="2.2" fill="#ABABAB" stroke="none" stroke-width="1" />
<circle cx="130.90" cy="340.60" r="2.2" fill="#ABABAB" stroke="none" stroke-width="1" />
<circle cx="138.00" cy="364.60" r="2.2" fill="#ABABAB" stroke="none" stroke-width="1" />
<circle cx="113.20" cy="340.40" r="2.2" fill="#ABABAB" stroke="none" stroke-width="1" />
<circle cx="116.70" cy="320.60" r="2.2" fill="#ABABAB" stroke="none" stroke-width="1" />
<circle cx="92.80" cy="349.50" r="2.2" fill="#ABABAB" stroke="none" stroke-width="1" />
<circle cx="129.80" cy="348.30" r="2.2" fill="#ABABAB" stroke="none" stroke-width="1" />
<circle cx="124.20" cy="356.00" r="2.2" fill="#ABABAB" stroke="none" stroke-width="1" />
<circle cx="142.10" cy="354.70" r="2.2" fill="#ABABAB" stroke="none" stroke-width="1" />
<circle cx="126.40" cy="329.30" r="2.2" fill="#ABABAB" stroke="none" stroke-width="1" />
<circle cx="101.70" cy="335.00" r="2.2" fill="#ABABAB" stroke="none" stroke-width="1" />
<circle cx="119.80" cy="353.50" r="2.2" fill="#ABABAB" stroke="none" stroke-width="1" />
<circle cx="109.40" cy="371.90" r="2.2" fill="#ABABAB" stroke="none" stroke-width="1" />
<circle cx="121.60" cy="332.50" r="2.2" fill="#ABABAB" stroke="none" stroke-width="1" />
<circle cx="94.60" cy="353.70" r="2.2" fill="#ABABAB" stroke="none" stroke-width="1" />
<circle cx="131.80" cy="336.40" r="2.2" fill="#ABABAB" stroke="none" stroke-width="1" />
<circle cx="117.60" cy="371.30" r="2.2" fill="#ABABAB" stroke="none" stroke-width="1" />
<circle cx="119.40" cy="342.20" r="2.2" fill="#ABABAB" stroke="none" stroke-width="1" />
<circle cx="128.20" cy="341.20" r="2.2" fill="#ABABAB" stroke="none" stroke-width="1" />
<circle cx="124.40" cy="333.50" r="2.2" fill="#ABABAB" stroke="none" stroke-width="1" />
<circle cx="113.40" cy="353.30" r="2.2" fill="#ABABAB" stroke="none" stroke-width="1" />
<circle cx="130.90" cy="336.20" r="2.2" fill="#ABABAB" stroke="none" stroke-width="1" />
<circle cx="130.70" cy="344.30" r="2.2" fill="#ABABAB" stroke="none" stroke-width="1" />
<circle cx="146.40" cy="352.20" r="2.2" fill="#ABABAB" stroke="none" stroke-width="1" />
<circle cx="156.80" cy="349.40" r="2.2" fill="#ABABAB" stroke="none" stroke-width="1" />
<circle cx="142.70" cy="342.30" r="2.2" fill="#ABABAB" stroke="none" stroke-width="1" />
<circle cx="126.90" cy="349.60" r="2.2" fill="#ABABAB" stroke="none" stroke-width="1" />
<circle cx="136.60" cy="341.10" r="2.2" fill="#ABABAB" stroke="none" stroke-width="1" />
<circle cx="137.40" cy="317.70" r="2.2" fill="#ABABAB" stroke="none" stroke-width="1" />
<circle cx="119.70" cy="319.50" r="2.2" fill="#ABABAB" stroke="none" stroke-width="1" />
<circle cx="101.80" cy="342.20" r="2.2" fill="#ABABAB" stroke="none" stroke-width="1" />
<circle cx="103.00" cy="354.80" r="2.2" fill="#ABABAB" stroke="none" stroke-width="1" />
<circle cx="111.20" cy="349.80" r="2.2" fill="#ABABAB" stroke="none" stroke-width="1" />
<circle cx="146.80" cy="347.60" r="2.2" fill="#ABABAB" stroke="none" stroke-width="1" />
<circle cx="109.10" cy="338.40" r="2.2" fill="#ABABAB" stroke="none" stroke-width="1" />
<circle cx="98.20" cy="357.10" r="2.2" fill="#ABABAB" stroke="none" stroke-width="1" />
<circle cx="101.10" cy="352.40" r="2.2" fill="#ABABAB" stroke="none" stroke-width="1" />
<circle cx="140.50" cy="366.70" r="2.2" fill="#ABABAB" stroke="none" stroke-width="1" />
<circle cx="137.60" cy="337.30" r="2.2" fill="#ABABAB" stroke="none" stroke-width="1" />
<circle cx="74.50" cy="398.60" r="2.2" fill="#ABABAB" stroke="none" stroke-width="1" />
<circle cx="75.40" cy="395.40" r="2.2" fill="#ABABAB" stroke="none" stroke-width="1" />
<circle cx="89.90" cy="400.40" r="2.2" fill="#ABABAB" stroke="none" stroke-width="1" />
<circle cx="71.30" cy="377.40" r="2.2" fill="#ABABAB" stroke="none" stroke-width="1" />
<circle cx="65.70" cy="395.40" r="2.2" fill="#ABABAB" stroke="none" stroke-width="1" />
<circle cx="69.30" cy="387.80" r="2.2" fill="#ABABAB" stroke="none" stroke-width="1" />
<circle cx="68.20" cy="383.20" r="2.2" fill="#ABABAB" stroke="none" stroke-width="1" />
<circle cx="77.10" cy="391.20" r="2.2" fill="#ABABAB" stroke="none" stroke-width="1" />
<circle cx="85.30" cy="390.10" r="2.2" fill="#ABABAB" stroke="none" stroke-width="1" />
<circle cx="96.30" cy="393.10" r="2.2" fill="#ABABAB" stroke="none" stroke-width="1" />
<circle cx="66.60" cy="390.60" r="2.2" fill="#ABABAB" stroke="none" stroke-width="1" />
<circle cx="89.00" cy="389.00" r="2.2" fill="#ABABAB" stroke="none" stroke-width="1" />
<circle cx="99.00" cy="445.70" r="2.2" fill="#ABABAB" stroke="none" stroke-width="1" />
<circle cx="85.40" cy="453.90" r="2.2" fill="#ABABAB" stroke="none" stroke-width="1" />
<circle cx="95.10" cy="453.00" r="2.2" fill="#ABABAB" stroke="none" stroke-width="1" />
<circle cx="95.40" cy="455.90" r="2.2" fill="#ABABAB" stroke="none" stroke-width="1" />
<circle cx="81.90" cy="459.10" r="2.2" fill="#ABABAB" stroke="none" stroke-width="1" />
<circle cx="94.90" cy="454.80" r="2.2" fill="#ABABAB" stroke="none" stroke-width="1" />
<circle cx="91.30" cy="454.50" r="2.2" fill="#ABABAB" stroke="none" stroke-width="1" />
<circle cx="90.90" cy="455.30" r="2.2" fill="#ABABAB" stroke="none" stroke-width="1" />
<circle cx="90.40" cy="451.20" r="2.2" fill="#ABABAB" stroke="none" stroke-width="1" />
<circle cx="97.50" cy="448.40" r="2.2" fill="#ABABAB" stroke="none" stroke-width="1" />
<circle cx="101.20" cy="447.50" r="2.2" fill="#ABABAB" stroke="none" stroke-width="1" />
<circle cx="88.60" cy="445.00" r="2.2" fill="#ABABAB" stroke="none" stroke-width="1" />
<circle cx="244.30" cy="397.00" r="2.2" fill="#ABABAB" stroke="none" stroke-width="1" />
<circle cx="250.70" cy="377.20" r="2.2" fill="#ABABAB" stroke="none" stroke-width="1" />
<circle cx="254.50" cy="378.10" r="2.2" fill="#ABABAB" stroke="none" stroke-width="1" />
<circle cx="255.30" cy="380.10" r="2.2" fill="#ABABAB" stroke="none" stroke-width="1" />
<circle cx="240.20" cy="396.90" r="2.2" fill="#ABABAB" stroke="none" stroke-width="1" />
<circle cx="248.80" cy="387.80" r="2.2" fill="#ABABAB" stroke="none" stroke-width="1" />
<circle cx="246.40" cy="391.20" r="2.2" fill="#ABABAB" stroke="none" stroke-width="1" />
<circle cx="249.20" cy="387.60" r="2.2" fill="#ABABAB" stroke="none" stroke-width="1" />
<circle cx="250.40" cy="383.40" r="2.2" fill="#ABABAB" stroke="none" stroke-width="1" />
<circle cx="256.40" cy="373.10" r="2.2" fill="#ABABAB" stroke="none" stroke-width="1" />
<circle cx="249.90" cy="373.00" r="2.2" fill="#ABABAB" stroke="none" stroke-width="1" />
<circle cx="248.10" cy="386.20" r="2.2" fill="#ABABAB" stroke="none" stroke-width="1" />
<circle cx="148.80" cy="305.80" r="3.5" fill="#2171B0" stroke="none" stroke-width="1" />
<circle cx="111.10" cy="324.40" r="3.5" fill="#2171B0" stroke="none" stroke-width="1" />
<circle cx="148.00" cy="326.50" r="3.5" fill="#2171B0" stroke="none" stroke-width="1" />
<circle cx="152.20" cy="331.20" r="3.5" fill="#2171B0" stroke="none" stroke-width="1" />
<circle cx="102.90" cy="336.40" r="3.5" fill="#2171B0" stroke="none" stroke-width="1" />
<circle cx="161.40" cy="334.90" r="3.5" fill="#2171B0" stroke="none" stroke-width="1" />
<circle cx="127.70" cy="337.00" r="3.5" fill="#2171B0" stroke="none" stroke-width="1" />
<circle cx="140.70" cy="335.40" r="3.5" fill="#2171B0" stroke="none" stroke-width="1" />
<circle cx="134.00" cy="343.10" r="3.5" fill="#2171B0" stroke="none" stroke-width="1" />
<circle cx="138.40" cy="342.10" r="3.5" fill="#2171B0" stroke="none" stroke-width="1" />
<circle cx="147.40" cy="341.20" r="3.5" fill="#2171B0" stroke="none" stroke-width="1" />
<circle cx="154.10" cy="340.80" r="3.5" fill="#2171B0" stroke="none" stroke-width="1" />
<circle cx="160.80" cy="341.60" r="3.5" fill="#2171B0" stroke="none" stroke-width="1" />
<circle cx="146.50" cy="346.90" r="3.5" fill="#2171B0" stroke="none" stroke-width="1" />
<circle cx="154.10" cy="349.80" r="3.5" fill="#2171B0" stroke="none" stroke-width="1" />
<circle cx="172.30" cy="349.80" r="3.5" fill="#2171B0" stroke="none" stroke-width="1" />
<circle cx="114.90" cy="349.20" r="3.5" fill="#2171B0" stroke="none" stroke-width="1" />
<circle cx="121.60" cy="346.50" r="3.5" fill="#2171B0" stroke="none" stroke-width="1" />
<circle cx="92.00" cy="358.00" r="3.5" fill="#2171B0" stroke="none" stroke-width="1" />
<circle cx="120.70" cy="358.40" r="3.5" fill="#2171B0" stroke="none" stroke-width="1" />
<circle cx="125.40" cy="360.70" r="3.5" fill="#2171B0" stroke="none" stroke-width="1" />
<circle cx="136.90" cy="357.00" r="3.5" fill="#2171B0" stroke="none" stroke-width="1" />
<circle cx="143.60" cy="357.00" r="3.5" fill="#2171B0" stroke="none" stroke-width="1" />
<circle cx="138.80" cy="359.30" r="3.5" fill="#2171B0" stroke="none" stroke-width="1" />
<circle cx="147.40" cy="363.20" r="3.5" fill="#2171B0" stroke="none" stroke-width="1" />
<circle cx="159.80" cy="362.60" r="3.5" fill="#2171B0" stroke="none" stroke-width="1" />
<circle cx="97.70" cy="364.10" r="3.5" fill="#2171B0" stroke="none" stroke-width="1" />
<circle cx="101.00" cy="362.20" r="3.5" fill="#2171B0" stroke="none" stroke-width="1" />
<circle cx="99.60" cy="370.80" r="3.5" fill="#2171B0" stroke="none" stroke-width="1" />
<circle cx="110.50" cy="367.60" r="3.5" fill="#2171B0" stroke="none" stroke-width="1" />
<circle cx="116.80" cy="367.00" r="3.5" fill="#2171B0" stroke="none" stroke-width="1" />
<circle cx="132.70" cy="369.50" r="3.5" fill="#2171B0" stroke="none" stroke-width="1" />
<circle cx="146.50" cy="373.30" r="3.5" fill="#2171B0" stroke="none" stroke-width="1" />
<circle cx="155.10" cy="379.80" r="3.5" fill="#2171B0" stroke="none" stroke-width="1" />
<circle cx="105.90" cy="377.10" r="3.5" fill="#2171B0" stroke="none" stroke-width="1" />
<circle cx="114.90" cy="378.50" r="3.5" fill="#2171B0" stroke="none" stroke-width="1" />
<circle cx="105.90" cy="394.10" r="3.5" fill="#2171B0" stroke="none" stroke-width="1" />
<circle cx="71.90" cy="365.10" r="3.5" fill="#2171B0" stroke="none" stroke-width="1" />
<circle cx="78.60" cy="371.80" r="3.5" fill="#2171B0" stroke="none" stroke-width="1" />
<circle cx="85.70" cy="370.80" r="3.5" fill="#2171B0" stroke="none" stroke-width="1" />
<circle cx="49.60" cy="356.30" r="3.5" fill="#2171B0" stroke="none" stroke-width="1" />
<circle cx="150.00" cy="338.00" r="3.5" fill="#2171B0" stroke="none" stroke-width="1" />
<circle cx="156.00" cy="337.00" r="3.5" fill="#2171B0" stroke="none" stroke-width="1" />
<circle cx="143.00" cy="338.00" r="3.5" fill="#2171B0" stroke="none" stroke-width="1" />
<circle cx="131.00" cy="340.00" r="3.5" fill="#2171B0" stroke="none" stroke-width="1" />
<circle cx="145.00" cy="344.00" r="3.5" fill="#2171B0" stroke="none" stroke-width="1" />
<circle cx="151.00" cy="345.00" r="3.5" fill="#2171B0" stroke="none" stroke-width="1" />
<circle cx="157.00" cy="344.00" r="3.5" fill="#2171B0" stroke="none" stroke-width="1" />
<circle cx="85.00" cy="421.00" r="3.5" fill="#2171B0" stroke="none" stroke-width="1" />
<circle cx="97.20" cy="421.90" r="3.5" fill="#2171B0" stroke="none" stroke-width="1" />
<circle cx="87.70" cy="430.40" r="3.5" fill="#2171B0" stroke="none" stroke-width="1" />
<circle cx="95.50" cy="435.20" r="3.5" fill="#2171B0" stroke="none" stroke-width="1" />
<circle cx="100.60" cy="434.20" r="3.5" fill="#2171B0" stroke="none" stroke-width="1" />
<circle cx="76.50" cy="450.90" r="3.5" fill="#2171B0" stroke="none" stroke-width="1" />
<circle cx="122.90" cy="531.70" r="3.5" fill="#2171B0" stroke="none" stroke-width="1" />
<circle cx="137.30" cy="533.10" r="3.5" fill="#2171B0" stroke="none" stroke-width="1" />
<circle cx="167.90" cy="542.50" r="3.5" fill="#2171B0" stroke="none" stroke-width="1" />
<circle cx="242.30" cy="422.40" r="3.5" fill="#238B3A" stroke="none" stroke-width="1" />
<circle cx="224.40" cy="431.50" r="3.5" fill="#238B3A" stroke="none" stroke-width="1" />
<circle cx="232.30" cy="440.30" r="3.5" fill="#238B3A" stroke="none" stroke-width="1" />
<circle cx="201.20" cy="435.60" r="3.5" fill="#238B3A" stroke="none" stroke-width="1" />
<circle cx="208.10" cy="436.80" r="3.5" fill="#238B3A" stroke="none" stroke-width="1" />
<circle cx="226.30" cy="448.90" r="3.5" fill="#238B3A" stroke="none" stroke-width="1" />
<circle cx="152.70" cy="459.00" r="3.5" fill="#238B3A" stroke="none" stroke-width="1" />
<circle cx="180.20" cy="458.30" r="3.5" fill="#238B3A" stroke="none" stroke-width="1" />
<circle cx="194.00" cy="453.00" r="3.5" fill="#238B3A" stroke="none" stroke-width="1" />
<circle cx="204.10" cy="454.20" r="3.5" fill="#238B3A" stroke="none" stroke-width="1" />
<circle cx="189.70" cy="459.00" r="3.5" fill="#238B3A" stroke="none" stroke-width="1" />
<circle cx="199.30" cy="460.20" r="3.5" fill="#238B3A" stroke="none" stroke-width="1" />
<circle cx="207.70" cy="461.40" r="3.5" fill="#238B3A" stroke="none" stroke-width="1" />
<circle cx="216.50" cy="458.50" r="3.5" fill="#238B3A" stroke="none" stroke-width="1" />
<circle cx="232.30" cy="458.30" r="3.5" fill="#238B3A" stroke="none" stroke-width="1" />
<circle cx="179.50" cy="464.50" r="3.5" fill="#238B3A" stroke="none" stroke-width="1" />
<circle cx="194.50" cy="467.30" r="3.5" fill="#238B3A" stroke="none" stroke-width="1" />
<circle cx="204.60" cy="468.50" r="3.5" fill="#238B3A" stroke="none" stroke-width="1" />
<circle cx="213.20" cy="470.20" r="3.5" fill="#238B3A" stroke="none" stroke-width="1" />
<circle cx="223.20" cy="467.30" r="3.5" fill="#238B3A" stroke="none" stroke-width="1" />
<circle cx="226.10" cy="471.40" r="3.5" fill="#238B3A" stroke="none" stroke-width="1" />
<circle cx="185.00" cy="471.60" r="3.5" fill="#238B3A" stroke="none" stroke-width="1" />
<circle cx="192.10" cy="473.30" r="3.5" fill="#238B3A" stroke="none" stroke-width="1" />
<circle cx="199.30" cy="473.30" r="3.5" fill="#238B3A" stroke="none" stroke-width="1" />
<circle cx="183.80" cy="478.10" r="3.5" fill="#238B3A" stroke="none" stroke-width="1" />
<circle cx="201.70" cy="480.50" r="3.5" fill="#238B3A" stroke="none" stroke-width="1" />
<circle cx="212.00" cy="478.80" r="3.5" fill="#238B3A" stroke="none" stroke-width="1" />
<circle cx="162.30" cy="478.10" r="3.5" fill="#238B3A" stroke="none" stroke-width="1" />
<circle cx="160.60" cy="484.10" r="3.5" fill="#238B3A" stroke="none" stroke-width="1" />
<circle cx="140.00" cy="484.80" r="3.5" fill="#238B3A" stroke="none" stroke-width="1" />
<circle cx="167.00" cy="492.00" r="3.5" fill="#238B3A" stroke="none" stroke-width="1" />
<circle cx="182.60" cy="484.10" r="3.5" fill="#238B3A" stroke="none" stroke-width="1" />
<circle cx="180.20" cy="490.00" r="3.5" fill="#238B3A" stroke="none" stroke-width="1" />
<circle cx="192.10" cy="485.30" r="3.5" fill="#238B3A" stroke="none" stroke-width="1" />
<circle cx="196.90" cy="488.90" r="3.5" fill="#238B3A" stroke="none" stroke-width="1" />
<circle cx="206.00" cy="484.10" r="3.5" fill="#238B3A" stroke="none" stroke-width="1" />
<circle cx="224.40" cy="483.60" r="3.5" fill="#238B3A" stroke="none" stroke-width="1" />
<circle cx="237.00" cy="486.00" r="3.5" fill="#238B3A" stroke="none" stroke-width="1" />
<circle cx="148.40" cy="496.70" r="3.5" fill="#238B3A" stroke="none" stroke-width="1" />
<circle cx="226.80" cy="497.20" r="3.5" fill="#238B3A" stroke="none" stroke-width="1" />
<circle cx="52.20" cy="508.30" r="3.5" fill="#238B3A" stroke="none" stroke-width="1" />
<circle cx="57.90" cy="512.60" r="3.5" fill="#238B3A" stroke="none" stroke-width="1" />
<circle cx="195.00" cy="476.00" r="3.5" fill="#238B3A" stroke="none" stroke-width="1" />
<circle cx="200.00" cy="466.00" r="3.5" fill="#238B3A" stroke="none" stroke-width="1" />
<circle cx="190.00" cy="480.00" r="3.5" fill="#238B3A" stroke="none" stroke-width="1" />
<circle cx="205.00" cy="475.00" r="3.5" fill="#238B3A" stroke="none" stroke-width="1" />
<circle cx="198.00" cy="484.00" r="3.5" fill="#238B3A" stroke="none" stroke-width="1" />
<circle cx="188.00" cy="466.00" r="3.5" fill="#238B3A" stroke="none" stroke-width="1" />
<circle cx="193.00" cy="482.00" r="3.5" fill="#238B3A" stroke="none" stroke-width="1" />
<circle cx="200.00" cy="489.00" r="3.5" fill="#238B3A" stroke="none" stroke-width="1" />
<circle cx="207.00" cy="480.00" r="3.5" fill="#238B3A" stroke="none" stroke-width="1" />
<circle cx="189.00" cy="474.00" r="3.5" fill="#238B3A" stroke="none" stroke-width="1" />
<circle cx="197.00" cy="471.00" r="3.5" fill="#238B3A" stroke="none" stroke-width="1" />
<circle cx="203.00" cy="484.00" r="3.5" fill="#238B3A" stroke="none" stroke-width="1" />
<circle cx="210.00" cy="486.00" r="3.5" fill="#238B3A" stroke="none" stroke-width="1" />
<circle cx="186.00" cy="486.00" r="3.5" fill="#238B3A" stroke="none" stroke-width="1" />
</svg></body></html>
